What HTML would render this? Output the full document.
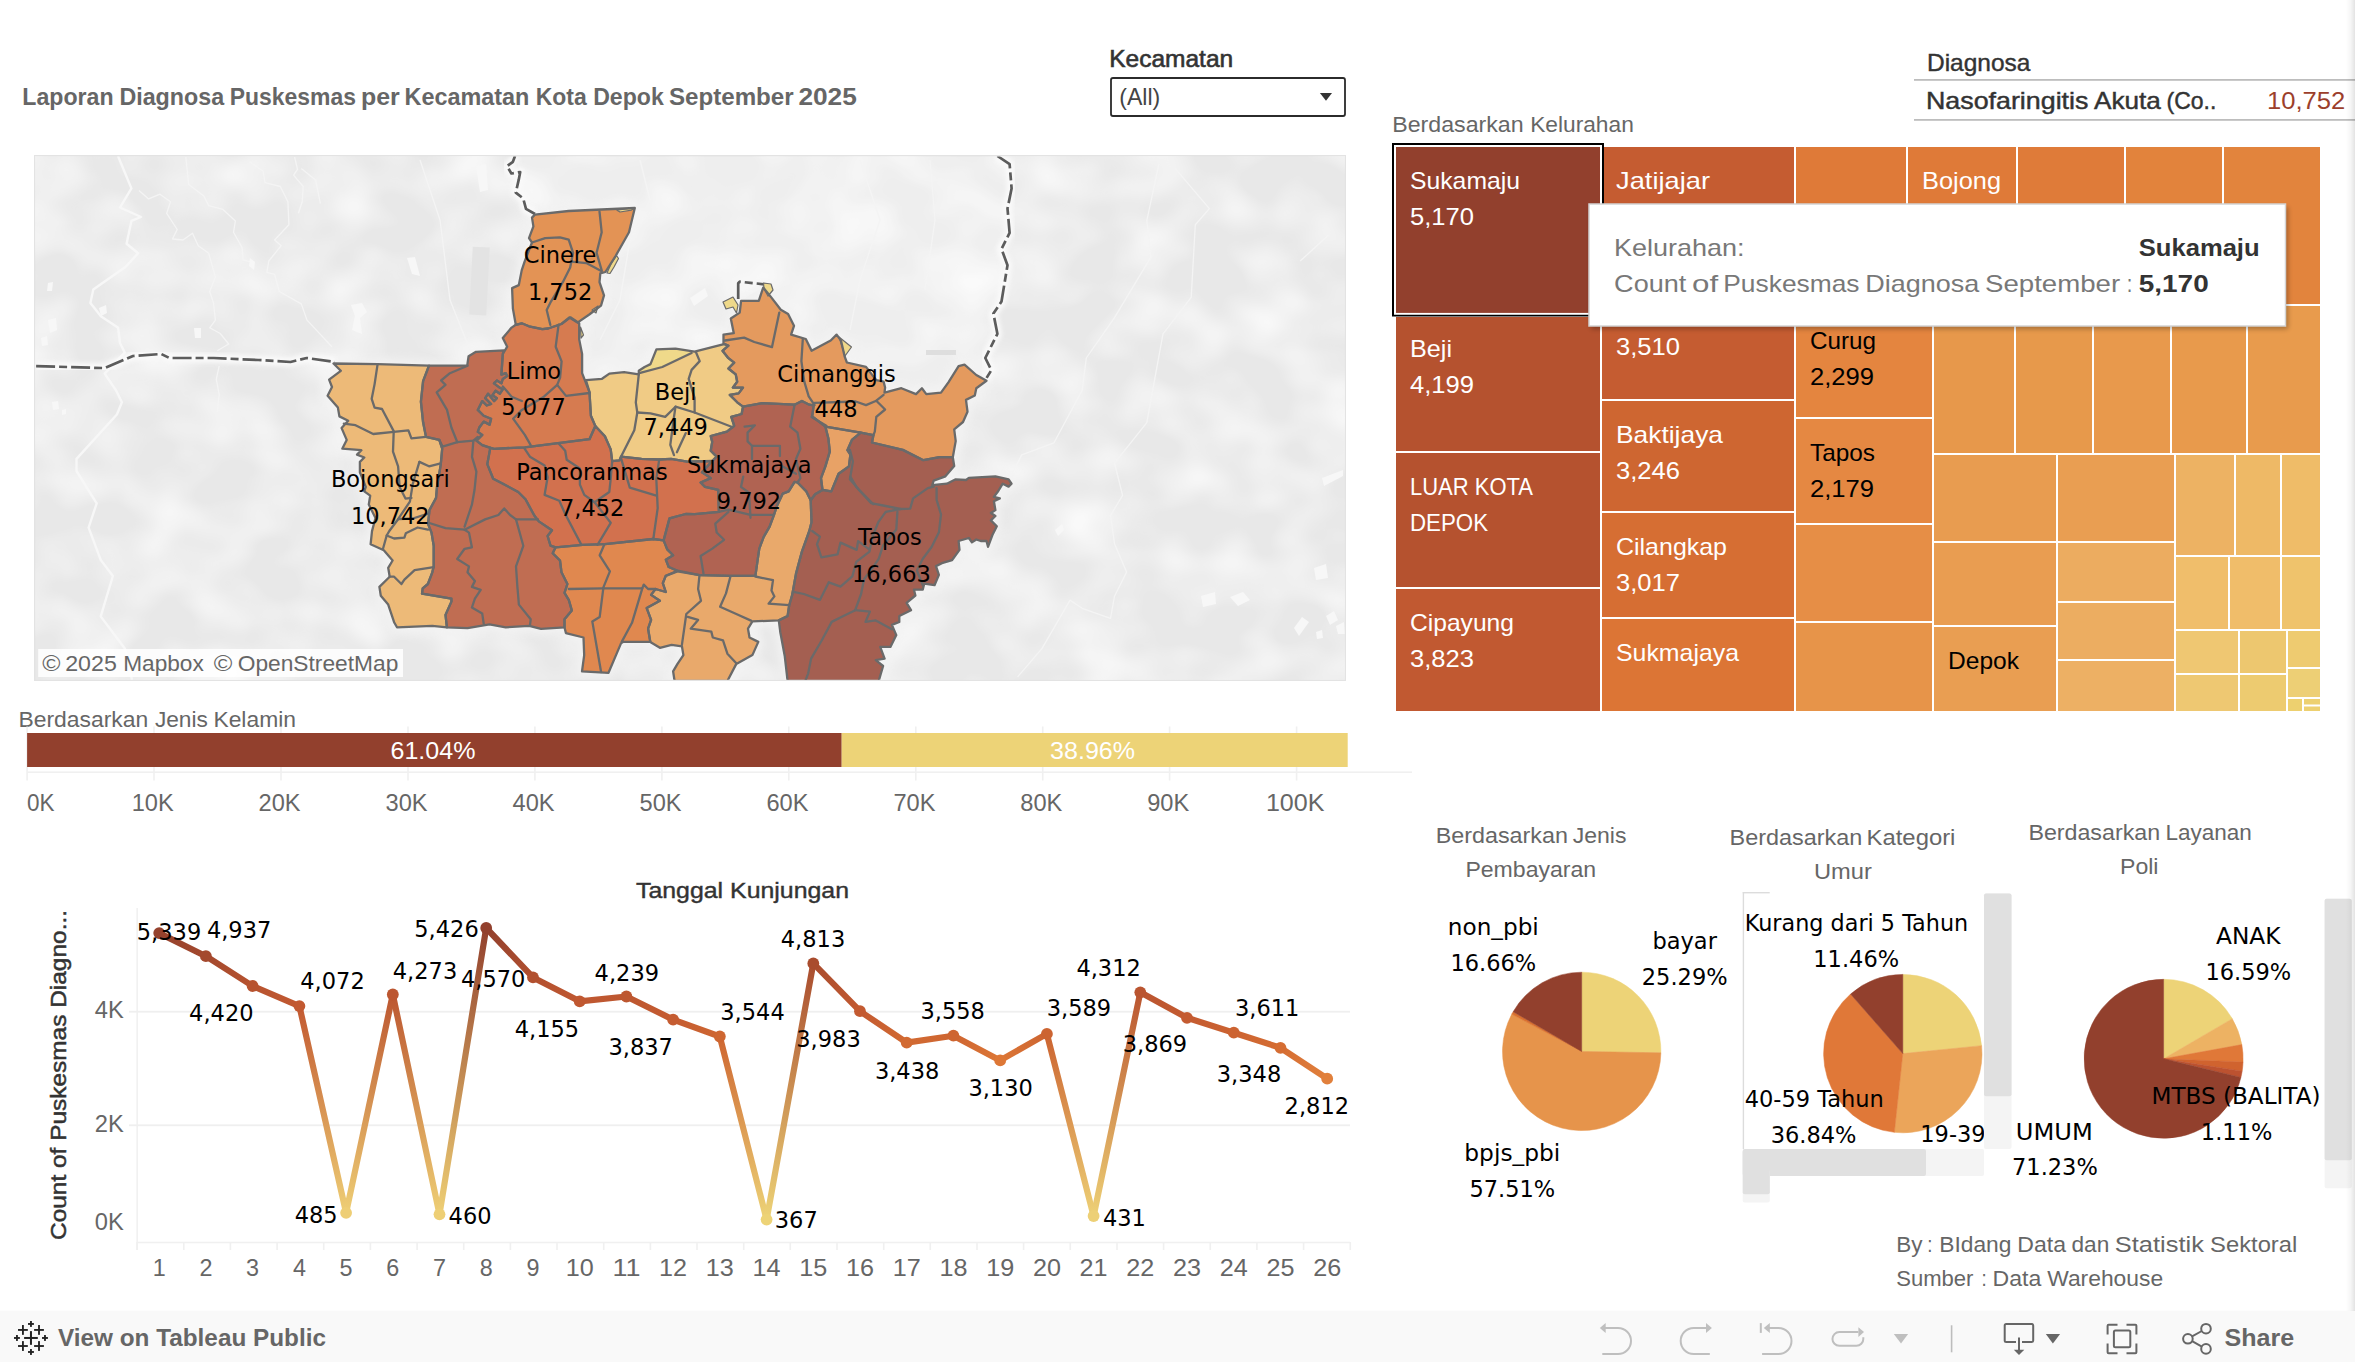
<!DOCTYPE html>
<html lang="id"><head><meta charset="utf-8">
<title>Laporan Diagnosa Puskesmas per Kecamatan Kota Depok September 2025</title>
<style>
html,body{margin:0;padding:0;background:#fff}
body{width:2355px;height:1362px;position:relative;overflow:hidden;font-family:"Liberation Sans", Arial, sans-serif}
svg text{white-space:pre}
</style></head><body>
<svg class="header" width="2355" height="115" viewBox="0 30 2355 115" style="position:absolute;left:0px;top:30px;overflow:hidden">
<text y="104.8" font-family='"Liberation Sans", Arial, sans-serif' font-size="24" fill="#666" font-weight="bold"><tspan x="22.3" textLength="91.3" lengthAdjust="spacingAndGlyphs">Laporan</tspan> <tspan x="119.4" textLength="104.8" lengthAdjust="spacingAndGlyphs">Diagnosa</tspan> <tspan x="229.7" textLength="126.2" lengthAdjust="spacingAndGlyphs">Puskesmas</tspan> <tspan x="361.0" textLength="38.8" lengthAdjust="spacingAndGlyphs">per</tspan> <tspan x="404.5" textLength="124.8" lengthAdjust="spacingAndGlyphs">Kecamatan</tspan> <tspan x="535.7" textLength="51.0" lengthAdjust="spacingAndGlyphs">Kota</tspan> <tspan x="593.2" textLength="70.6" lengthAdjust="spacingAndGlyphs">Depok</tspan> <tspan x="668.9" textLength="124.8" lengthAdjust="spacingAndGlyphs">September</tspan> <tspan x="798.4" textLength="58.4" lengthAdjust="spacingAndGlyphs">2025</tspan></text>
<text x="1109.2" y="66.9" font-family='"Liberation Sans", Arial, sans-serif' font-size="24" fill="#333" text-anchor="start" textLength="124.0" lengthAdjust="spacingAndGlyphs" stroke="#333" stroke-width="0.6">Kecamatan</text>
<rect x="1111" y="78" width="234" height="38" rx="2" fill="#fff" stroke="#2b2b2b" stroke-width="1.8"/>
<text x="1119.3" y="105.2" font-family='"Liberation Sans", Arial, sans-serif' font-size="24" fill="#444" text-anchor="start" textLength="41.0" lengthAdjust="spacingAndGlyphs">(All)</text>
<path d="M1319.9 93 L1332 93 L1326 100.8 Z" fill="#333"/>
<text x="1927.0" y="70.6" font-family='"Liberation Sans", Arial, sans-serif' font-size="24" fill="#333" text-anchor="start" textLength="103.4" lengthAdjust="spacingAndGlyphs" stroke="#333" stroke-width="0.4">Diagnosa</text>
<rect x="1914" y="79" width="441" height="1.8" fill="#bdbdbd"/>
<text y="108.8" font-family='"Liberation Sans", Arial, sans-serif' font-size="24" fill="#333" stroke="#333" stroke-width="0.45"><tspan x="1926.0" textLength="162.4" lengthAdjust="spacingAndGlyphs">Nasofaringitis</tspan> <tspan x="2094.1" textLength="66.8" lengthAdjust="spacingAndGlyphs">Akuta</tspan> <tspan x="2166.6" textLength="49.7" lengthAdjust="spacingAndGlyphs">(Co..</tspan></text>
<text x="2267.0" y="108.8" font-family='"Liberation Sans", Arial, sans-serif' font-size="24" fill="#9c3f2c" text-anchor="start" textLength="78.3" lengthAdjust="spacingAndGlyphs">10,752</text>
<rect x="1914" y="119" width="441" height="1.8" fill="#bdbdbd"/>
<text y="132.0" font-family='"Liberation Sans", Arial, sans-serif' font-size="22" fill="#666"><tspan x="1392.3" textLength="131.3" lengthAdjust="spacingAndGlyphs">Berdasarkan</tspan> <tspan x="1530.2" textLength="103.6" lengthAdjust="spacingAndGlyphs">Kelurahan</tspan></text>
</svg>
<svg class="map" width="1313" height="527" viewBox="34 155 1313 527" style="position:absolute;left:34px;top:155px;overflow:hidden">
<defs><filter id="mb" x="-10%" y="-10%" width="120%" height="120%"><feGaussianBlur stdDeviation="5"/></filter><filter id="mb2" x="-10%" y="-10%" width="120%" height="120%"><feGaussianBlur stdDeviation="2"/></filter><filter id="mottle" x="0" y="0" width="100%" height="100%" color-interpolation-filters="sRGB"><feTurbulence type="fractalNoise" baseFrequency="0.016 0.02" numOctaves="2" seed="7"/><feColorMatrix type="matrix" values="0 0 0 0 1  0 0 0 0 1  0 0 0 0 1  1.5 0 0 0 -0.56"/></filter><clipPath id="mapclip"><rect x="35.4" y="156.4" width="1309.3" height="523.3"/></clipPath></defs>
<rect x="34" y="155" width="1312" height="526" fill="#e3e3e3"/>
<rect x="35.4" y="156.4" width="1309.3" height="523.3" fill="#e8e8e8"/>
<rect x="35.4" y="156.4" width="1309.3" height="523.3" filter="url(#mottle)"/>
<g clip-path="url(#mapclip)">
<polygon points="515,156 997,156 1010,165 1011,188 1008,233 1002,265 1001,301 993,314 997,334 985,358 986,380 960,366 948,382 940,392 885,392 866,367 846,362 836,335 811,350 794,326 763,288 741,300 731,318 723,343 694,351 656,349 650,364 609,373 586,380 582,354 579,323 605,272 635,208 535,214 526,209 516,192 520,172" fill="#ffffff" opacity="0.27"/>
<polyline points="118.0,156.0 131.4,188.4 120.0,207.5 141.0,217.0 131.4,220.9 126.6,243.8 138.1,253.3 125.7,266.7 93.3,289.6 90.4,302.9 100.9,316.3 118.1,327.8 120.0,343.0 124.7,352.6 104.7,373.6 116.2,390.7 121.9,402.2 116.9,414.5 76.5,458.9 76.5,471.0 96.7,503.3 88.6,527.6 100.7,559.9 112.9,576.0 100.7,616.4 125.0,648.7 132.0,680.0" fill="none" stroke="#f7f7f7" stroke-width="2.4" stroke-linejoin="round"/>
<polyline points="139.0,190.4 148.6,198.9 160.0,194.2 170.5,201.8 166.7,213.3 177.2,229.5 172.5,239.0 183.0,240.0 192.5,233.3 198.2,245.7 208.7,253.3 215.4,277.2 209.7,291.5 213.5,302.9 215.4,320.1 209.7,327.8 220.2,333.5 228.7,344.0 217.3,350.7" fill="none" stroke="#f4f4f4" stroke-width="1.3" stroke-linejoin="round"/>
<polyline points="185.8,157.0 188.7,184.6 203.9,196.1 208.7,205.6 223.0,209.4 235.4,220.9 233.5,232.3 242.1,247.6 243.1,260.0 251.6,261.9" fill="none" stroke="#f4f4f4" stroke-width="1.3" stroke-linejoin="round"/>
<polyline points="249.7,161.7 263.1,171.3 265.0,182.7 280.3,186.5 287.9,201.8 288.9,224.7 274.6,240.0 281.2,245.7 268.8,261.0 266.9,272.4 274.6,274.3 279.3,291.5 301.3,303.9 307.0,320.1 320.4,334.4 331.8,346.8" fill="none" stroke="#f4f4f4" stroke-width="1.3" stroke-linejoin="round"/>
<polyline points="294.6,157.0 297.5,169.4 293.6,175.1 303.2,186.5 302.2,201.8 298.4,213.3" fill="none" stroke="#f4f4f4" stroke-width="1.3" stroke-linejoin="round"/>
<polyline points="301.3,168.4 315.6,179.9 320.4,203.7" fill="none" stroke="#f4f4f4" stroke-width="1.3" stroke-linejoin="round"/>
<polyline points="219.2,365.9 216.3,379.3 219.2,394.5 217.3,411.7" fill="none" stroke="#f4f4f4" stroke-width="1.3" stroke-linejoin="round"/>
<polyline points="1158.9,164.2 1146.8,220.7 1150.9,257.1 1114.5,317.6 1086.3,358.0 1082.2,390.3 1054.0,442.8 1021.7,454.9 1009.6,479.1" fill="none" stroke="#f4f4f4" stroke-width="1.3" stroke-linejoin="round"/>
<polyline points="1175.1,168.3 1209.4,208.6 1195.3,224.8 1191.2,297.4 1163.0,333.8 1154.9,378.2 1146.8,422.6 1130.7,442.8 1114.5,463.0 1122.6,495.3 1110.5,515.5 1114.5,543.7 1126.6,572.0 1114.5,596.2 1110.5,618.4 1082.2,608.3 1070.1,600.2 1041.9,648.7 1017.6,676.9" fill="none" stroke="#f4f4f4" stroke-width="1.3" stroke-linejoin="round"/>
<polyline points="1328.5,234.9 1300.2,261.1" fill="none" stroke="#f4f4f4" stroke-width="1.3" stroke-linejoin="round"/>
<polyline points="860.0,160.0 880.0,220.0 860.0,280.0 850.0,330.0" fill="none" stroke="#f4f4f4" stroke-width="1.3" stroke-linejoin="round"/>
<polyline points="930.0,160.0 935.0,220.0 925.0,290.0" fill="none" stroke="#f4f4f4" stroke-width="1.3" stroke-linejoin="round"/>
<polyline points="640.0,160.0 650.0,200.0 630.0,240.0 620.0,300.0 600.0,340.0" fill="none" stroke="#f4f4f4" stroke-width="1.3" stroke-linejoin="round"/>
<polyline points="420.0,160.0 440.0,220.0 450.0,300.0 470.0,350.0" fill="none" stroke="#f4f4f4" stroke-width="1.3" stroke-linejoin="round"/>
<polygon points="351.0,305.0 362.0,303.0 367.0,312.0 360.0,318.0 362.0,334.0 352.0,330.0 355.0,316.0" fill="#f7f7f7"/>
<polygon points="476.0,166.0 486.0,164.0 488.0,190.0 480.0,192.0" fill="#f7f7f7"/>
<polygon points="407.0,258.0 415.0,257.0 420.0,276.0 412.0,274.0" fill="#f7f7f7"/>
<polygon points="1201.0,596.0 1215.0,592.0 1216.0,604.0 1203.0,607.0" fill="#f7f7f7"/>
<polygon points="1230.0,597.0 1243.0,592.0 1250.0,600.0 1238.0,606.0" fill="#f7f7f7"/>
<polygon points="1294.0,628.0 1302.0,617.0 1309.0,622.0 1299.0,636.0" fill="#f7f7f7"/>
<polygon points="1326.0,616.0 1334.0,611.0 1338.0,620.0 1330.0,625.0" fill="#f7f7f7"/>
<polygon points="1336.0,626.0 1344.0,622.0 1345.0,634.0 1338.0,634.0" fill="#f7f7f7"/>
<polygon points="1316.0,632.0 1322.0,630.0 1323.0,638.0 1317.0,639.0" fill="#f7f7f7"/>
<polygon points="1314.0,568.0 1326.0,564.0 1328.0,578.0 1316.0,580.0" fill="#f7f7f7"/>
<polygon points="1322.0,478.0 1343.0,470.0 1343.0,476.0 1324.0,486.0" fill="#f7f7f7"/>
<polygon points="1055.0,530.0 1062.0,524.0 1064.0,530.0 1058.0,536.0" fill="#f7f7f7"/>
<polygon points="48.0,283.0 53.0,282.0 52.0,291.0 47.0,291.0" fill="#f7f7f7"/>
<polygon points="48.0,320.0 56.0,318.0 57.0,330.0 50.0,333.0" fill="#f7f7f7"/>
<polygon points="41.0,338.0 47.0,336.0 48.0,345.0 42.0,346.0" fill="#f7f7f7"/>
<polygon points="99.0,308.0 106.0,305.0 107.0,313.0 101.0,316.0" fill="#f7f7f7"/>
<polygon points="194.0,328.0 201.0,328.0 201.0,338.0 195.0,338.0" fill="#f7f7f7"/>
<polygon points="250.0,258.0 255.0,262.0 254.0,270.0 249.0,266.0" fill="#f7f7f7"/>
<polygon points="52.0,402.0 58.0,401.0 59.0,409.0 53.0,410.0" fill="#f7f7f7"/>
<polygon points="62.0,410.0 66.0,409.0 66.0,414.0 62.0,415.0" fill="#f7f7f7"/>
<polygon points="690.0,298.0 705.0,288.0 708.0,296.0 694.0,306.0" fill="#f7f7f7"/>
<polygon points="660.0,382.0 690.0,348.0 700.0,352.0 670.0,386.0" fill="#f7f7f7"/>
<rect x="471" y="247" width="17" height="68" fill="#e3e3e3" transform="rotate(3 479 281)"/>
<rect x="926" y="350" width="30" height="5" fill="#dedede"/>
<g filter="url(#mb)" stroke="#f3f3f3" stroke-width="10" stroke-linejoin="round">
<polygon points="534.9,214.6 568.7,211.0 634.8,208.0 629.0,232.3 615.7,255.8 605.4,272.0 600.3,273.4 599.5,282.2 604.0,295.4 601.0,305.7 589.3,314.5 577.5,322.6 569.4,317.5 561.4,324.0 548.1,328.5 542.3,329.2 529.0,326.3 521.7,323.3 515.8,324.8 512.9,308.6 512.1,288.1 518.8,285.1 521.7,270.4 524.6,261.6 532.0,242.5 529.0,238.1 533.4,226.4 532.0,217.6" fill="#f3f3f3"/>
<polygon points="511.6,327.6 502.8,337.9 507.2,346.7 502.8,354.0 501.4,374.6 505.8,373.2 507.2,376.1 502.8,379.0 501.4,383.4 496.9,380.5 494.0,383.4 499.9,387.8 502.8,389.3 499.9,393.7 495.5,390.8 492.5,395.2 496.9,398.1 494.0,401.1 488.1,393.7 485.2,398.1 491.1,404.0 486.7,405.5 482.3,401.1 477.8,409.9 483.7,415.8 491.1,418.7 489.6,424.6 483.7,421.6 479.3,427.5 477.8,431.9 482.3,434.9 479.3,437.8 476.4,440.7 482.2,445.1 494.0,448.8 524.8,447.3 560.1,442.9 589.5,439.2 595.3,426.0 590.9,415.7 589.5,392.2 582.1,373.2 582.1,354.0 579.2,339.4 579.2,323.2 570.4,317.3 561.4,324.0 548.1,328.5 542.3,329.2 529.0,326.3 521.7,323.3 515.8,324.8" fill="#f3f3f3"/>
<polygon points="429.0,365.7 467.2,365.7 468.6,356.2 476.0,351.8 503.9,350.3 502.8,354.0 501.4,374.6 505.8,373.2 507.2,376.1 502.8,379.0 501.4,383.4 496.9,380.5 494.0,383.4 499.9,387.8 502.8,389.3 499.9,393.7 495.5,390.8 492.5,395.2 496.9,398.1 494.0,401.1 488.1,393.7 485.2,398.1 491.1,404.0 486.7,405.5 482.3,401.1 477.8,409.9 483.7,415.8 491.1,418.7 489.6,424.6 483.7,421.6 479.3,427.5 477.8,431.9 482.3,434.9 479.3,437.8 476.4,440.7 482.2,445.1 490.3,447.9 487.3,464.1 493.2,478.8 502.0,483.2 518.2,492.0 525.5,499.3 534.3,515.5 538.8,521.4 552.0,530.2 547.6,536.0 550.5,545.6 555.6,547.3 552.7,553.2 560.0,560.5 561.5,572.3 567.4,584.0 564.5,592.8 568.9,600.2 571.8,610.4 564.5,619.3 564.5,627.3 541.0,628.8 529.2,625.9 505.7,627.3 489.5,624.4 467.5,628.1 446.9,627.3 445.5,614.9 451.4,601.6 451.4,598.7 422.0,593.6 422.7,588.4 427.9,584.0 432.3,572.3 433.7,566.4 433.7,545.8 431.5,532.6 428.0,523.8 429.5,510.0 436.0,498.0 437.0,487.0 440.7,464.9 442.2,448.7 439.3,439.9 426.0,436.9 423.1,422.3 420.9,401.7 423.1,381.1 429.0,365.7" fill="#f3f3f3"/>
<polygon points="333.5,363.5 377.6,364.2 429.0,365.7 423.1,381.1 420.9,401.7 423.1,422.3 426.0,436.9 439.3,439.9 442.2,448.7 440.7,464.9 437.0,487.0 436.0,498.0 429.5,510.0 428.0,523.8 431.5,532.6 433.7,545.8 433.7,566.4 432.3,572.3 427.9,584.0 422.7,588.4 422.0,593.6 451.4,598.7 451.4,601.6 445.5,614.9 446.9,627.3 432.3,625.9 397.0,627.3 394.1,622.2 388.2,604.6 380.8,595.8 379.4,586.9 389.7,576.7 388.2,567.8 392.6,560.5 383.8,550.2 370.6,544.3 372.0,531.1 375.5,518.0 368.8,504.5 370.2,495.7 364.3,491.3 365.8,486.9 359.9,472.2 359.9,461.9 364.3,457.5 357.0,454.6 361.4,450.2 342.3,448.7 346.7,439.9 341.6,428.1 348.2,420.8 339.4,416.4 337.9,407.6 327.6,395.8 332.0,387.0 329.1,379.7 340.8,370.8 333.5,363.5" fill="#f3f3f3"/>
<polygon points="490.3,447.9 494.0,448.8 524.8,447.3 560.1,442.9 589.5,439.2 595.3,426.0 604.9,436.2 610.7,449.4 612.2,461.1 619.5,460.4 621.0,456.6 641.6,458.9 659.3,459.5 671.1,458.8 687.2,461.7 712.2,461.0 702.0,472.3 710.8,478.1 700.6,482.5 705.0,486.9 718.2,489.9 718.9,511.9 694.7,514.1 685.6,514.0 669.5,518.4 663.6,540.4 653.3,539.0 604.9,544.1 582.8,544.9 555.6,547.3 550.5,545.6 547.6,536.0 552.0,530.2 538.8,521.4 534.3,515.5 525.5,499.3 518.2,492.0 502.0,483.2 493.2,478.8 487.3,464.1" fill="#f3f3f3"/>
<polygon points="585.9,380.2 602.0,378.8 609.4,373.6 624.1,372.1 638.8,374.3 638.8,370.7 644.6,367.0 650.5,364.1 656.4,349.4 675.5,348.6 694.6,351.6 724.0,344.2 728.4,345.7 722.5,350.8 728.4,358.2 734.2,362.6 728.4,368.5 735.7,374.3 737.2,381.7 732.8,387.6 743.0,387.6 738.6,393.4 729.8,394.9 737.2,402.3 743.0,406.7 741.6,414.0 731.3,416.9 734.2,425.8 726.9,431.6 710.7,436.0 712.2,441.9 710.7,450.7 716.6,456.6 712.2,461.0 687.2,461.7 671.1,458.8 659.3,459.5 641.6,458.9 621.0,456.6 619.5,460.4 612.2,461.1 610.7,449.4 604.9,436.2 595.3,426.0 590.9,415.7 589.5,392.2" fill="#f3f3f3"/>
<polygon points="656.4,349.4 675.5,348.6 691.6,353.0 662.3,367.0 640.2,372.9 644.6,367.0 650.5,364.1" fill="#f3f3f3"/>
<polygon points="743.0,406.7 762.3,403.2 794.6,404.7 801.9,401.0 809.3,404.7 813.7,405.4 812.2,416.4 825.4,426.7 828.4,438.5 829.8,451.7 825.4,466.4 821.0,478.1 822.5,489.9 815.1,494.3 810.7,500.2 806.3,491.4 797.5,482.5 794.6,481.8 788.7,491.4 782.8,493.6 776.9,506.0 774.0,514.9 769.6,526.6 763.7,536.9 759.3,548.6 757.8,558.9 755.4,575.8 730.4,575.8 699.5,575.1 677.5,570.7 668.7,567.0 665.8,559.7 673.1,555.3 667.2,549.4 663.6,540.4 669.5,518.4 685.6,514.0 694.7,514.1 718.9,511.9 718.2,489.9 705.0,486.9 700.6,482.5 710.8,478.1 702.0,472.3 712.2,461.0 716.6,456.6 710.7,450.7 712.2,441.9 710.7,436.0 726.9,431.6 734.2,425.8 731.3,416.9 741.6,414.0" fill="#f3f3f3"/>
<polygon points="555.6,547.3 582.8,544.9 604.9,544.1 653.3,539.0 663.6,540.4 667.2,549.4 673.1,555.3 665.8,559.7 668.7,567.0 677.5,570.7 665.8,575.8 662.8,583.2 665.8,592.0 655.5,589.0 651.1,594.9 659.9,600.8 646.7,608.1 651.1,619.9 648.1,628.7 650.3,641.9 623.2,641.9 621.0,643.4 608.5,672.8 582.0,671.3 584.2,655.1 583.5,637.5 565.9,633.1 564.5,627.3 564.5,619.3 571.8,610.4 568.9,600.2 564.5,592.8 567.4,584.0 561.5,572.3 560.0,560.5 552.7,553.2" fill="#f3f3f3"/>
<polygon points="665.8,575.8 677.5,571.4 699.5,575.1 730.4,575.8 755.4,575.8 757.8,558.9 759.3,548.6 763.7,536.9 769.6,526.6 774.0,514.9 776.9,506.0 782.8,493.6 788.7,491.4 794.6,481.8 797.5,482.5 806.3,491.4 810.7,500.2 811.5,522.2 809.3,531.0 801.9,551.6 796.0,573.6 793.1,590.0 792.0,595.5 789.1,605.8 787.6,616.0 778.8,620.4 752.4,621.4 748.0,628.7 749.5,637.5 758.3,641.9 752.4,655.1 736.3,663.9 727.4,681.0 674.6,681.0 673.1,671.3 677.5,663.9 683.4,655.1 681.9,646.3 671.6,644.9 659.9,647.8 650.3,641.9 648.1,628.7 651.1,619.9 646.7,608.1 659.9,600.8 651.1,594.9 655.5,589.0 665.8,592.0 662.8,583.2" fill="#f3f3f3"/>
<polygon points="825.4,426.7 860.7,432.6 851.9,439.9 847.4,450.2 850.4,454.6 848.9,466.4 838.6,473.7 831.3,491.4 822.5,489.9 821.0,478.1 825.4,466.4 829.8,451.7 828.4,438.5" fill="#f3f3f3"/>
<polygon points="728.4,345.7 723.5,343.4 723.5,334.6 733.8,333.2 730.8,318.5 739.7,312.6 741.1,300.8 758.8,300.8 763.2,287.6 770.5,296.4 780.8,309.7 788.1,314.1 794.0,325.8 791.1,334.6 805.8,339.0 811.6,350.8 830.7,340.5 836.6,334.6 841.0,340.5 844.7,356.7 846.9,362.5 866.0,366.9 876.3,380.2 883.6,381.6 885.1,387.5 884.5,392.6 901.4,388.2 916.0,394.1 921.9,388.2 926.3,394.1 941.0,392.6 948.4,382.3 958.6,366.2 964.5,364.7 976.3,375.0 986.5,380.8 976.3,388.2 974.8,395.5 966.0,399.9 967.5,411.7 963.0,422.0 954.2,429.3 955.7,441.1 952.8,457.2 939.5,457.2 923.4,460.2 902.8,449.9 872.0,442.5 873.4,435.2 860.7,432.6 825.4,426.7 812.2,416.4 813.7,405.4 809.3,404.7 801.9,401.0 794.6,404.7 762.3,403.2 743.0,406.7 737.2,402.3 729.8,394.9 738.6,393.4 743.0,387.6 732.8,387.6 737.2,381.7 735.7,374.3 728.4,368.5 734.2,362.6 728.4,358.2 722.5,350.8" fill="#f3f3f3"/>
<polygon points="810.7,500.2 815.1,494.3 822.5,489.9 831.3,491.4 838.6,473.7 848.9,466.4 850.4,454.6 847.4,450.2 851.9,439.9 860.7,432.6 873.4,435.2 872.0,442.5 902.8,449.9 923.4,460.2 939.5,457.2 952.8,457.2 954.2,466.0 945.4,476.3 933.7,480.7 932.2,485.1 946.9,483.7 955.7,479.3 966.0,480.0 968.9,477.8 995.4,476.3 1008.6,479.3 1011.5,483.7 1008.6,486.6 1002.7,483.7 998.3,491.0 993.9,496.9 999.8,498.4 993.9,501.3 995.4,510.1 990.9,513.0 995.4,516.0 990.9,520.4 996.8,526.3 992.4,535.1 988.0,546.8 986.5,541.0 980.7,541.0 976.3,539.5 971.9,542.4 968.9,538.0 958.6,541.0 959.5,549.9 952.1,560.2 941.9,563.2 936.0,566.1 938.9,574.9 934.5,585.2 924.2,583.7 922.8,589.6 913.9,589.6 915.4,595.5 906.6,602.8 911.0,610.2 899.3,616.0 899.3,621.9 891.9,624.9 896.3,635.1 890.4,646.9 880.2,646.9 884.6,658.6 875.8,660.1 883.1,666.0 878.7,681.0 787.6,681.0 784.7,655.7 780.3,632.2 778.8,620.4 787.6,616.0 789.1,605.8 792.0,595.5 793.1,590.0 796.0,573.6 801.9,551.6 809.3,531.0 811.5,522.2" fill="#f3f3f3"/>
</g>
<polyline points="36.1,366.1 104.8,368.1 133.0,356.0 161.3,354.0 169.4,358.0 213.8,358.0 258.2,360.0 290.5,362.0 306.6,358.0 334.9,362.0" fill="none" stroke="#fafafa" stroke-width="9" stroke-linejoin="round" filter="url(#mb2)"/>
<polyline points="535.0,214.0 526.0,208.8 523.2,198.5 515.8,192.6 518.8,179.4 520.2,172.0 511.4,173.5 507.0,166.2 512.9,161.8 515.0,156.0" fill="none" stroke="#fafafa" stroke-width="9" stroke-linejoin="round" filter="url(#mb2)"/>
<polyline points="997.4,156.0 1009.6,164.2 1011.6,188.4 1007.5,208.6 1009.6,232.9 1001.5,249.0 1007.5,265.2 1001.5,301.5 993.4,313.6 997.4,333.8 985.3,358.0 991.4,370.1 985.3,380.0" fill="none" stroke="#fafafa" stroke-width="9" stroke-linejoin="round" filter="url(#mb2)"/>
<polyline points="36.1,366.1 104.8,368.1 133.0,356.0 161.3,354.0 169.4,358.0 213.8,358.0 258.2,360.0 290.5,362.0 306.6,358.0 334.9,362.0" fill="none" stroke="#5c5c5c" stroke-width="2.7" stroke-dasharray="19 4 8 4" stroke-linejoin="round"/>
<polyline points="535.0,214.0 526.0,208.8 523.2,198.5 515.8,192.6 518.8,179.4 520.2,172.0 511.4,173.5 507.0,166.2 512.9,161.8 515.0,156.0" fill="none" stroke="#5c5c5c" stroke-width="2.7" stroke-dasharray="19 4 8 4" stroke-linejoin="round"/>
<polyline points="997.4,156.0 1009.6,164.2 1011.6,188.4 1007.5,208.6 1009.6,232.9 1001.5,249.0 1007.5,265.2 1001.5,301.5 993.4,313.6 997.4,333.8 985.3,358.0 991.4,370.1 985.3,380.0" fill="none" stroke="#5c5c5c" stroke-width="2.7" stroke-dasharray="19 4 8 4" stroke-linejoin="round"/>
<polyline points="738.2,299.0 738.2,283.2 739.7,281.7 767.6,284.7" fill="none" stroke="#5c5c5c" stroke-width="2.7" stroke-dasharray="19 4 8 4" stroke-linejoin="round"/>
<polygon points="534.9,214.6 568.7,211.0 634.8,208.0 629.0,232.3 615.7,255.8 605.4,272.0 600.3,273.4 599.5,282.2 604.0,295.4 601.0,305.7 589.3,314.5 577.5,322.6 569.4,317.5 561.4,324.0 548.1,328.5 542.3,329.2 529.0,326.3 521.7,323.3 515.8,324.8 512.9,308.6 512.1,288.1 518.8,285.1 521.7,270.4 524.6,261.6 532.0,242.5 529.0,238.1 533.4,226.4 532.0,217.6" fill="#E39355"/>
<polygon points="511.6,327.6 502.8,337.9 507.2,346.7 502.8,354.0 501.4,374.6 505.8,373.2 507.2,376.1 502.8,379.0 501.4,383.4 496.9,380.5 494.0,383.4 499.9,387.8 502.8,389.3 499.9,393.7 495.5,390.8 492.5,395.2 496.9,398.1 494.0,401.1 488.1,393.7 485.2,398.1 491.1,404.0 486.7,405.5 482.3,401.1 477.8,409.9 483.7,415.8 491.1,418.7 489.6,424.6 483.7,421.6 479.3,427.5 477.8,431.9 482.3,434.9 479.3,437.8 476.4,440.7 482.2,445.1 494.0,448.8 524.8,447.3 560.1,442.9 589.5,439.2 595.3,426.0 590.9,415.7 589.5,392.2 582.1,373.2 582.1,354.0 579.2,339.4 579.2,323.2 570.4,317.3 561.4,324.0 548.1,328.5 542.3,329.2 529.0,326.3 521.7,323.3 515.8,324.8" fill="#D67B50"/>
<polygon points="429.0,365.7 467.2,365.7 468.6,356.2 476.0,351.8 503.9,350.3 502.8,354.0 501.4,374.6 505.8,373.2 507.2,376.1 502.8,379.0 501.4,383.4 496.9,380.5 494.0,383.4 499.9,387.8 502.8,389.3 499.9,393.7 495.5,390.8 492.5,395.2 496.9,398.1 494.0,401.1 488.1,393.7 485.2,398.1 491.1,404.0 486.7,405.5 482.3,401.1 477.8,409.9 483.7,415.8 491.1,418.7 489.6,424.6 483.7,421.6 479.3,427.5 477.8,431.9 482.3,434.9 479.3,437.8 476.4,440.7 482.2,445.1 490.3,447.9 487.3,464.1 493.2,478.8 502.0,483.2 518.2,492.0 525.5,499.3 534.3,515.5 538.8,521.4 552.0,530.2 547.6,536.0 550.5,545.6 555.6,547.3 552.7,553.2 560.0,560.5 561.5,572.3 567.4,584.0 564.5,592.8 568.9,600.2 571.8,610.4 564.5,619.3 564.5,627.3 541.0,628.8 529.2,625.9 505.7,627.3 489.5,624.4 467.5,628.1 446.9,627.3 445.5,614.9 451.4,601.6 451.4,598.7 422.0,593.6 422.7,588.4 427.9,584.0 432.3,572.3 433.7,566.4 433.7,545.8 431.5,532.6 428.0,523.8 429.5,510.0 436.0,498.0 437.0,487.0 440.7,464.9 442.2,448.7 439.3,439.9 426.0,436.9 423.1,422.3 420.9,401.7 423.1,381.1 429.0,365.7" fill="#C06D52"/>
<polygon points="333.5,363.5 377.6,364.2 429.0,365.7 423.1,381.1 420.9,401.7 423.1,422.3 426.0,436.9 439.3,439.9 442.2,448.7 440.7,464.9 437.0,487.0 436.0,498.0 429.5,510.0 428.0,523.8 431.5,532.6 433.7,545.8 433.7,566.4 432.3,572.3 427.9,584.0 422.7,588.4 422.0,593.6 451.4,598.7 451.4,601.6 445.5,614.9 446.9,627.3 432.3,625.9 397.0,627.3 394.1,622.2 388.2,604.6 380.8,595.8 379.4,586.9 389.7,576.7 388.2,567.8 392.6,560.5 383.8,550.2 370.6,544.3 372.0,531.1 375.5,518.0 368.8,504.5 370.2,495.7 364.3,491.3 365.8,486.9 359.9,472.2 359.9,461.9 364.3,457.5 357.0,454.6 361.4,450.2 342.3,448.7 346.7,439.9 341.6,428.1 348.2,420.8 339.4,416.4 337.9,407.6 327.6,395.8 332.0,387.0 329.1,379.7 340.8,370.8 333.5,363.5" fill="#EDBA78"/>
<polygon points="490.3,447.9 494.0,448.8 524.8,447.3 560.1,442.9 589.5,439.2 595.3,426.0 604.9,436.2 610.7,449.4 612.2,461.1 619.5,460.4 621.0,456.6 641.6,458.9 659.3,459.5 671.1,458.8 687.2,461.7 712.2,461.0 702.0,472.3 710.8,478.1 700.6,482.5 705.0,486.9 718.2,489.9 718.9,511.9 694.7,514.1 685.6,514.0 669.5,518.4 663.6,540.4 653.3,539.0 604.9,544.1 582.8,544.9 555.6,547.3 550.5,545.6 547.6,536.0 552.0,530.2 538.8,521.4 534.3,515.5 525.5,499.3 518.2,492.0 502.0,483.2 493.2,478.8 487.3,464.1" fill="#D2714E"/>
<polygon points="585.9,380.2 602.0,378.8 609.4,373.6 624.1,372.1 638.8,374.3 638.8,370.7 644.6,367.0 650.5,364.1 656.4,349.4 675.5,348.6 694.6,351.6 724.0,344.2 728.4,345.7 722.5,350.8 728.4,358.2 734.2,362.6 728.4,368.5 735.7,374.3 737.2,381.7 732.8,387.6 743.0,387.6 738.6,393.4 729.8,394.9 737.2,402.3 743.0,406.7 741.6,414.0 731.3,416.9 734.2,425.8 726.9,431.6 710.7,436.0 712.2,441.9 710.7,450.7 716.6,456.6 712.2,461.0 687.2,461.7 671.1,458.8 659.3,459.5 641.6,458.9 621.0,456.6 619.5,460.4 612.2,461.1 610.7,449.4 604.9,436.2 595.3,426.0 590.9,415.7 589.5,392.2" fill="#F0CB85"/>
<polygon points="656.4,349.4 675.5,348.6 691.6,353.0 662.3,367.0 640.2,372.9 644.6,367.0 650.5,364.1" fill="#EFD98A"/>
<polygon points="743.0,406.7 762.3,403.2 794.6,404.7 801.9,401.0 809.3,404.7 813.7,405.4 812.2,416.4 825.4,426.7 828.4,438.5 829.8,451.7 825.4,466.4 821.0,478.1 822.5,489.9 815.1,494.3 810.7,500.2 806.3,491.4 797.5,482.5 794.6,481.8 788.7,491.4 782.8,493.6 776.9,506.0 774.0,514.9 769.6,526.6 763.7,536.9 759.3,548.6 757.8,558.9 755.4,575.8 730.4,575.8 699.5,575.1 677.5,570.7 668.7,567.0 665.8,559.7 673.1,555.3 667.2,549.4 663.6,540.4 669.5,518.4 685.6,514.0 694.7,514.1 718.9,511.9 718.2,489.9 705.0,486.9 700.6,482.5 710.8,478.1 702.0,472.3 712.2,461.0 716.6,456.6 710.7,450.7 712.2,441.9 710.7,436.0 726.9,431.6 734.2,425.8 731.3,416.9 741.6,414.0" fill="#B06352"/>
<polygon points="555.6,547.3 582.8,544.9 604.9,544.1 653.3,539.0 663.6,540.4 667.2,549.4 673.1,555.3 665.8,559.7 668.7,567.0 677.5,570.7 665.8,575.8 662.8,583.2 665.8,592.0 655.5,589.0 651.1,594.9 659.9,600.8 646.7,608.1 651.1,619.9 648.1,628.7 650.3,641.9 623.2,641.9 621.0,643.4 608.5,672.8 582.0,671.3 584.2,655.1 583.5,637.5 565.9,633.1 564.5,627.3 564.5,619.3 571.8,610.4 568.9,600.2 564.5,592.8 567.4,584.0 561.5,572.3 560.0,560.5 552.7,553.2" fill="#E0884F"/>
<polygon points="665.8,575.8 677.5,571.4 699.5,575.1 730.4,575.8 755.4,575.8 757.8,558.9 759.3,548.6 763.7,536.9 769.6,526.6 774.0,514.9 776.9,506.0 782.8,493.6 788.7,491.4 794.6,481.8 797.5,482.5 806.3,491.4 810.7,500.2 811.5,522.2 809.3,531.0 801.9,551.6 796.0,573.6 793.1,590.0 792.0,595.5 789.1,605.8 787.6,616.0 778.8,620.4 752.4,621.4 748.0,628.7 749.5,637.5 758.3,641.9 752.4,655.1 736.3,663.9 727.4,681.0 674.6,681.0 673.1,671.3 677.5,663.9 683.4,655.1 681.9,646.3 671.6,644.9 659.9,647.8 650.3,641.9 648.1,628.7 651.1,619.9 646.7,608.1 659.9,600.8 651.1,594.9 655.5,589.0 665.8,592.0 662.8,583.2" fill="#E9A96B"/>
<polygon points="825.4,426.7 860.7,432.6 851.9,439.9 847.4,450.2 850.4,454.6 848.9,466.4 838.6,473.7 831.3,491.4 822.5,489.9 821.0,478.1 825.4,466.4 829.8,451.7 828.4,438.5" fill="#E8A266"/>
<polygon points="728.4,345.7 723.5,343.4 723.5,334.6 733.8,333.2 730.8,318.5 739.7,312.6 741.1,300.8 758.8,300.8 763.2,287.6 770.5,296.4 780.8,309.7 788.1,314.1 794.0,325.8 791.1,334.6 805.8,339.0 811.6,350.8 830.7,340.5 836.6,334.6 841.0,340.5 844.7,356.7 846.9,362.5 866.0,366.9 876.3,380.2 883.6,381.6 885.1,387.5 884.5,392.6 901.4,388.2 916.0,394.1 921.9,388.2 926.3,394.1 941.0,392.6 948.4,382.3 958.6,366.2 964.5,364.7 976.3,375.0 986.5,380.8 976.3,388.2 974.8,395.5 966.0,399.9 967.5,411.7 963.0,422.0 954.2,429.3 955.7,441.1 952.8,457.2 939.5,457.2 923.4,460.2 902.8,449.9 872.0,442.5 873.4,435.2 860.7,432.6 825.4,426.7 812.2,416.4 813.7,405.4 809.3,404.7 801.9,401.0 794.6,404.7 762.3,403.2 743.0,406.7 737.2,402.3 729.8,394.9 738.6,393.4 743.0,387.6 732.8,387.6 737.2,381.7 735.7,374.3 728.4,368.5 734.2,362.6 728.4,358.2 722.5,350.8" fill="#E49A5E"/>
<polygon points="810.7,500.2 815.1,494.3 822.5,489.9 831.3,491.4 838.6,473.7 848.9,466.4 850.4,454.6 847.4,450.2 851.9,439.9 860.7,432.6 873.4,435.2 872.0,442.5 902.8,449.9 923.4,460.2 939.5,457.2 952.8,457.2 954.2,466.0 945.4,476.3 933.7,480.7 932.2,485.1 946.9,483.7 955.7,479.3 966.0,480.0 968.9,477.8 995.4,476.3 1008.6,479.3 1011.5,483.7 1008.6,486.6 1002.7,483.7 998.3,491.0 993.9,496.9 999.8,498.4 993.9,501.3 995.4,510.1 990.9,513.0 995.4,516.0 990.9,520.4 996.8,526.3 992.4,535.1 988.0,546.8 986.5,541.0 980.7,541.0 976.3,539.5 971.9,542.4 968.9,538.0 958.6,541.0 959.5,549.9 952.1,560.2 941.9,563.2 936.0,566.1 938.9,574.9 934.5,585.2 924.2,583.7 922.8,589.6 913.9,589.6 915.4,595.5 906.6,602.8 911.0,610.2 899.3,616.0 899.3,621.9 891.9,624.9 896.3,635.1 890.4,646.9 880.2,646.9 884.6,658.6 875.8,660.1 883.1,666.0 878.7,681.0 787.6,681.0 784.7,655.7 780.3,632.2 778.8,620.4 787.6,616.0 789.1,605.8 792.0,595.5 793.1,590.0 796.0,573.6 801.9,551.6 809.3,531.0 811.5,522.2" fill="#A45F51"/>
<polygon points="617.0,210.2 634.0,207.6 631.5,210.2 620.0,212.0" fill="#EFD98A" stroke="#6b6b6b" stroke-width="1.2" stroke-linejoin="round"/>
<polygon points="607.0,273.0 611.0,264.0 616.5,255.5 618.5,258.5 614.0,267.0 610.0,273.5" fill="#EFD98A" stroke="#6b6b6b" stroke-width="1.2" stroke-linejoin="round"/>
<polygon points="580.5,327.0 583.5,335.0 581.0,338.0" fill="#EFD98A" stroke="#6b6b6b" stroke-width="1.2" stroke-linejoin="round"/>
<polygon points="592.0,310.0 598.0,306.0 596.0,313.0" fill="#EFD98A" stroke="#6b6b6b" stroke-width="1.2" stroke-linejoin="round"/>
<polygon points="763.5,283.0 771.0,284.0 773.0,290.0 768.0,296.0 764.0,289.0" fill="#EFD98A" stroke="#6b6b6b" stroke-width="1.2" stroke-linejoin="round"/>
<polygon points="723.0,302.0 733.0,297.0 738.0,305.0 736.5,313.0 733.0,307.0 726.0,309.0" fill="#EFD98A" stroke="#6b6b6b" stroke-width="1.2" stroke-linejoin="round"/>
<polygon points="839.0,337.0 851.5,347.0 845.0,356.0" fill="#EFD98A" stroke="#6b6b6b" stroke-width="1.2" stroke-linejoin="round"/>
<g fill="none" stroke="#6a6a6a" stroke-width="2.3" stroke-linejoin="round" stroke-linecap="round">
<polyline points="599.5,211.7 601.7,232.3 596.6,252.8 601.7,270.4"/>
<polyline points="532.0,242.5 545.2,238.1 559.9,237.4 568.7,239.6 573.1,252.8 570.2,267.5 562.8,282.2 551.1,301.3 546.7,310.1 550.3,324.8"/>
<polyline points="571.6,261.6 586.3,263.1 601.7,271.2"/>
<polyline points="558.6,324.7 555.7,346.7 561.6,361.4 560.1,377.6 557.2,384.9 566.0,395.9 589.5,393.0"/>
<polyline points="557.2,384.9 543.9,396.7 521.9,409.9 513.1,418.7 524.8,434.9 530.7,445.1"/>
<polyline points="502.8,386.4 511.6,396.7 521.9,401.0"/>
<polyline points="467.6,365.8 449.9,373.2 441.1,380.5 445.5,384.9 436.7,392.3 447.0,409.9 451.4,427.5 457.3,442.2"/>
<polyline points="439.3,439.9 442.6,446.6 457.3,442.2 473.4,440.7 477.8,437.0"/>
<polyline points="473.4,440.7 472.0,456.9 476.4,471.6 474.5,490.0 471.9,504.7 464.6,526.7"/>
<polyline points="429.3,523.0 445.5,528.2 464.6,529.7 485.1,519.4 498.4,515.0 504.2,508.4 510.1,515.0 516.0,519.4 538.0,519.4"/>
<polyline points="464.6,529.7 469.0,532.6 471.9,547.3 464.6,548.8 457.2,559.0 469.0,566.4 467.5,572.3 474.9,581.1 471.9,586.9 480.7,589.9 474.9,598.7 471.9,607.5 482.2,613.4 483.7,623.7"/>
<polyline points="516.0,519.4 523.3,545.8 516.0,566.4 517.4,586.9 518.9,604.6 530.7,619.3 529.9,625.9"/>
<polyline points="377.6,364.2 374.6,384.1 371.7,398.8 374.6,407.6 382.0,409.0 393.7,431.1"/>
<polyline points="343.8,423.7 355.5,425.2 373.2,434.0 393.7,431.8 408.4,430.3 411.4,438.4 426.0,436.9"/>
<polyline points="393.7,431.8 393.0,451.6 398.1,466.3 399.6,486.9 405.5,498.6 411.4,497.9"/>
<polyline points="419.4,461.9 429.0,466.3 440.7,463.4"/>
<polyline points="419.4,461.9 412.8,483.9 409.9,501.6 398.1,519.2 389.3,531.0 386.7,535.5 383.0,548.8"/>
<polyline points="398.1,519.2 412.8,518.5 429.0,513.3"/>
<polyline points="427.9,529.7 417.6,527.5 405.8,533.3 404.4,537.7 394.1,538.5 386.7,535.5"/>
<polyline points="433.7,567.1 414.6,570.1 404.4,579.6 401.4,584.0 394.1,576.7 389.7,576.7"/>
<polyline points="524.1,447.9 529.9,456.7 544.6,465.5 547.6,477.3 544.6,494.9 559.3,500.8 565.2,514.0 581.4,544.9"/>
<polyline points="559.3,444.2 565.2,450.8 566.7,459.7 579.9,468.5 579.9,484.6 584.3,494.9 594.6,502.3 610.7,522.8 597.5,544.9"/>
<polyline points="612.2,461.1 610.7,478.8 609.3,492.0 594.6,502.3"/>
<polyline points="621.0,458.2 629.8,487.6 656.3,495.6"/>
<polyline points="659.2,459.7 656.3,478.8 657.7,508.1 653.3,539.0"/>
<polyline points="604.1,545.0 599.7,555.3 609.9,571.4 603.3,587.6"/>
<polyline points="568.8,589.0 603.3,588.3 642.3,588.3 643.7,584.6 648.1,589.0 655.5,589.0"/>
<polyline points="603.3,588.3 599.7,616.9 592.3,621.4 601.1,672.0"/>
<polyline points="642.3,588.3 632.0,622.8 621.7,641.9"/>
<polyline points="699.5,575.1 698.1,589.0 701.0,600.8 686.3,614.0 681.9,644.9"/>
<polyline points="730.4,576.6 726.0,593.4 720.1,606.7 736.3,614.0 751.0,620.6"/>
<polyline points="687.8,616.9 698.1,619.9 690.7,628.7 711.3,631.6 712.8,637.5 723.0,640.4 727.4,653.7 736.3,663.2"/>
<polyline points="755.4,576.5 773.0,580.2 771.5,590.5 774.4,596.4 768.6,603.7 789.1,605.2"/>
<polyline points="638.8,374.3 635.8,402.3 637.3,412.5 634.3,430.2 621.1,456.6"/>
<polyline points="637.3,412.5 650.5,413.3 665.2,416.9 675.5,406.7 694.6,412.5 732.8,427.2"/>
<polyline points="696.0,352.3 699.7,361.1 691.6,369.9 688.7,378.8 694.6,397.8 694.6,412.5"/>
<polyline points="675.5,406.7 674.0,416.9 670.3,444.9 674.0,455.1"/>
<polyline points="685.8,433.1 676.9,452.2"/>
<polyline points="794.6,404.7 790.2,426.7 797.5,432.6 800.4,448.8 796.0,459.0 800.4,478.1 797.5,482.5"/>
<polyline points="744.6,426.7 754.9,425.3 747.6,432.6 747.6,441.4 752.0,445.8 779.9,445.8 779.9,456.1"/>
<polyline points="752.0,445.8 752.0,459.0"/>
<polyline points="743.2,476.7 741.0,486.9 749.0,492.8 750.5,517.8"/>
<polyline points="782.8,466.4 796.0,473.7"/>
<polyline points="718.9,511.9 728.5,509.7 750.5,514.9 774.0,514.9"/>
<polyline points="728.5,511.9 715.3,523.7 716.7,532.5 724.1,539.8 712.3,548.6 700.6,556.0 703.5,573.6"/>
<polyline points="725.0,340.5 744.1,337.6 754.3,342.0 772.0,347.1 779.3,312.6"/>
<polyline points="802.8,339.0 801.4,361.1 804.3,381.6 808.7,396.3 814.6,405.1"/>
<polyline points="814.6,402.9 855.7,401.5 866.0,405.1 876.3,400.7 883.6,394.9"/>
<polyline points="876.3,400.7 885.1,409.5 876.3,416.9 874.8,431.6 873.4,435.2"/>
<polyline points="811.6,416.9 826.3,425.7"/>
<polyline points="850.4,476.7 856.3,486.9 871.0,503.1 885.7,506.0 900.3,509.0 910.2,508.6 913.1,498.4 927.8,488.1 933.7,486.6"/>
<polyline points="849.9,449.9 852.9,461.6 849.9,479.3 858.8,489.5 873.4,504.2"/>
<polyline points="900.3,509.0 885.7,511.9 878.3,522.2 872.4,536.9 869.5,551.6 856.3,561.9 852.3,576.4 840.5,586.7 828.8,582.3 819.9,599.9 803.8,594.0 793.5,591.8"/>
<polyline points="812.2,531.0 819.9,536.7 817.0,544.1 821.4,557.3 837.6,554.3 840.5,542.6 856.7,549.9 858.1,541.1 869.9,549.9"/>
<polyline points="897.4,511.9 896.3,529.4 883.1,545.5 878.7,558.8 872.8,567.6 864.0,579.3 861.1,594.0 855.2,610.2 843.4,616.0 831.7,621.9 821.4,641.0 811.1,658.6 808.2,673.3 805.3,681.0"/>
<polyline points="855.2,610.2 869.9,611.6 865.5,621.9 875.8,620.4 891.9,629.3"/>
<polyline points="936.6,488.1 936.6,499.8 941.0,514.5 938.9,532.3 931.6,547.0 922.8,558.8 916.9,570.5 922.8,585.2"/>
<polygon points="534.9,214.6 568.7,211.0 634.8,208.0 629.0,232.3 615.7,255.8 605.4,272.0 600.3,273.4 599.5,282.2 604.0,295.4 601.0,305.7 589.3,314.5 577.5,322.6 569.4,317.5 561.4,324.0 548.1,328.5 542.3,329.2 529.0,326.3 521.7,323.3 515.8,324.8 512.9,308.6 512.1,288.1 518.8,285.1 521.7,270.4 524.6,261.6 532.0,242.5 529.0,238.1 533.4,226.4 532.0,217.6"/>
<polygon points="511.6,327.6 502.8,337.9 507.2,346.7 502.8,354.0 501.4,374.6 505.8,373.2 507.2,376.1 502.8,379.0 501.4,383.4 496.9,380.5 494.0,383.4 499.9,387.8 502.8,389.3 499.9,393.7 495.5,390.8 492.5,395.2 496.9,398.1 494.0,401.1 488.1,393.7 485.2,398.1 491.1,404.0 486.7,405.5 482.3,401.1 477.8,409.9 483.7,415.8 491.1,418.7 489.6,424.6 483.7,421.6 479.3,427.5 477.8,431.9 482.3,434.9 479.3,437.8 476.4,440.7 482.2,445.1 494.0,448.8 524.8,447.3 560.1,442.9 589.5,439.2 595.3,426.0 590.9,415.7 589.5,392.2 582.1,373.2 582.1,354.0 579.2,339.4 579.2,323.2 570.4,317.3 561.4,324.0 548.1,328.5 542.3,329.2 529.0,326.3 521.7,323.3 515.8,324.8"/>
<polygon points="429.0,365.7 467.2,365.7 468.6,356.2 476.0,351.8 503.9,350.3 502.8,354.0 501.4,374.6 505.8,373.2 507.2,376.1 502.8,379.0 501.4,383.4 496.9,380.5 494.0,383.4 499.9,387.8 502.8,389.3 499.9,393.7 495.5,390.8 492.5,395.2 496.9,398.1 494.0,401.1 488.1,393.7 485.2,398.1 491.1,404.0 486.7,405.5 482.3,401.1 477.8,409.9 483.7,415.8 491.1,418.7 489.6,424.6 483.7,421.6 479.3,427.5 477.8,431.9 482.3,434.9 479.3,437.8 476.4,440.7 482.2,445.1 490.3,447.9 487.3,464.1 493.2,478.8 502.0,483.2 518.2,492.0 525.5,499.3 534.3,515.5 538.8,521.4 552.0,530.2 547.6,536.0 550.5,545.6 555.6,547.3 552.7,553.2 560.0,560.5 561.5,572.3 567.4,584.0 564.5,592.8 568.9,600.2 571.8,610.4 564.5,619.3 564.5,627.3 541.0,628.8 529.2,625.9 505.7,627.3 489.5,624.4 467.5,628.1 446.9,627.3 445.5,614.9 451.4,601.6 451.4,598.7 422.0,593.6 422.7,588.4 427.9,584.0 432.3,572.3 433.7,566.4 433.7,545.8 431.5,532.6 428.0,523.8 429.5,510.0 436.0,498.0 437.0,487.0 440.7,464.9 442.2,448.7 439.3,439.9 426.0,436.9 423.1,422.3 420.9,401.7 423.1,381.1 429.0,365.7"/>
<polygon points="333.5,363.5 377.6,364.2 429.0,365.7 423.1,381.1 420.9,401.7 423.1,422.3 426.0,436.9 439.3,439.9 442.2,448.7 440.7,464.9 437.0,487.0 436.0,498.0 429.5,510.0 428.0,523.8 431.5,532.6 433.7,545.8 433.7,566.4 432.3,572.3 427.9,584.0 422.7,588.4 422.0,593.6 451.4,598.7 451.4,601.6 445.5,614.9 446.9,627.3 432.3,625.9 397.0,627.3 394.1,622.2 388.2,604.6 380.8,595.8 379.4,586.9 389.7,576.7 388.2,567.8 392.6,560.5 383.8,550.2 370.6,544.3 372.0,531.1 375.5,518.0 368.8,504.5 370.2,495.7 364.3,491.3 365.8,486.9 359.9,472.2 359.9,461.9 364.3,457.5 357.0,454.6 361.4,450.2 342.3,448.7 346.7,439.9 341.6,428.1 348.2,420.8 339.4,416.4 337.9,407.6 327.6,395.8 332.0,387.0 329.1,379.7 340.8,370.8 333.5,363.5"/>
<polygon points="490.3,447.9 494.0,448.8 524.8,447.3 560.1,442.9 589.5,439.2 595.3,426.0 604.9,436.2 610.7,449.4 612.2,461.1 619.5,460.4 621.0,456.6 641.6,458.9 659.3,459.5 671.1,458.8 687.2,461.7 712.2,461.0 702.0,472.3 710.8,478.1 700.6,482.5 705.0,486.9 718.2,489.9 718.9,511.9 694.7,514.1 685.6,514.0 669.5,518.4 663.6,540.4 653.3,539.0 604.9,544.1 582.8,544.9 555.6,547.3 550.5,545.6 547.6,536.0 552.0,530.2 538.8,521.4 534.3,515.5 525.5,499.3 518.2,492.0 502.0,483.2 493.2,478.8 487.3,464.1"/>
<polygon points="585.9,380.2 602.0,378.8 609.4,373.6 624.1,372.1 638.8,374.3 638.8,370.7 644.6,367.0 650.5,364.1 656.4,349.4 675.5,348.6 694.6,351.6 724.0,344.2 728.4,345.7 722.5,350.8 728.4,358.2 734.2,362.6 728.4,368.5 735.7,374.3 737.2,381.7 732.8,387.6 743.0,387.6 738.6,393.4 729.8,394.9 737.2,402.3 743.0,406.7 741.6,414.0 731.3,416.9 734.2,425.8 726.9,431.6 710.7,436.0 712.2,441.9 710.7,450.7 716.6,456.6 712.2,461.0 687.2,461.7 671.1,458.8 659.3,459.5 641.6,458.9 621.0,456.6 619.5,460.4 612.2,461.1 610.7,449.4 604.9,436.2 595.3,426.0 590.9,415.7 589.5,392.2"/>
<polyline points="640.2,372.9 662.3,367.0 691.6,353.0"/>
<polygon points="743.0,406.7 762.3,403.2 794.6,404.7 801.9,401.0 809.3,404.7 813.7,405.4 812.2,416.4 825.4,426.7 828.4,438.5 829.8,451.7 825.4,466.4 821.0,478.1 822.5,489.9 815.1,494.3 810.7,500.2 806.3,491.4 797.5,482.5 794.6,481.8 788.7,491.4 782.8,493.6 776.9,506.0 774.0,514.9 769.6,526.6 763.7,536.9 759.3,548.6 757.8,558.9 755.4,575.8 730.4,575.8 699.5,575.1 677.5,570.7 668.7,567.0 665.8,559.7 673.1,555.3 667.2,549.4 663.6,540.4 669.5,518.4 685.6,514.0 694.7,514.1 718.9,511.9 718.2,489.9 705.0,486.9 700.6,482.5 710.8,478.1 702.0,472.3 712.2,461.0 716.6,456.6 710.7,450.7 712.2,441.9 710.7,436.0 726.9,431.6 734.2,425.8 731.3,416.9 741.6,414.0"/>
<polygon points="555.6,547.3 582.8,544.9 604.9,544.1 653.3,539.0 663.6,540.4 667.2,549.4 673.1,555.3 665.8,559.7 668.7,567.0 677.5,570.7 665.8,575.8 662.8,583.2 665.8,592.0 655.5,589.0 651.1,594.9 659.9,600.8 646.7,608.1 651.1,619.9 648.1,628.7 650.3,641.9 623.2,641.9 621.0,643.4 608.5,672.8 582.0,671.3 584.2,655.1 583.5,637.5 565.9,633.1 564.5,627.3 564.5,619.3 571.8,610.4 568.9,600.2 564.5,592.8 567.4,584.0 561.5,572.3 560.0,560.5 552.7,553.2"/>
<polygon points="665.8,575.8 677.5,571.4 699.5,575.1 730.4,575.8 755.4,575.8 757.8,558.9 759.3,548.6 763.7,536.9 769.6,526.6 774.0,514.9 776.9,506.0 782.8,493.6 788.7,491.4 794.6,481.8 797.5,482.5 806.3,491.4 810.7,500.2 811.5,522.2 809.3,531.0 801.9,551.6 796.0,573.6 793.1,590.0 792.0,595.5 789.1,605.8 787.6,616.0 778.8,620.4 752.4,621.4 748.0,628.7 749.5,637.5 758.3,641.9 752.4,655.1 736.3,663.9 727.4,681.0 674.6,681.0 673.1,671.3 677.5,663.9 683.4,655.1 681.9,646.3 671.6,644.9 659.9,647.8 650.3,641.9 648.1,628.7 651.1,619.9 646.7,608.1 659.9,600.8 651.1,594.9 655.5,589.0 665.8,592.0 662.8,583.2"/>
<polygon points="825.4,426.7 860.7,432.6 851.9,439.9 847.4,450.2 850.4,454.6 848.9,466.4 838.6,473.7 831.3,491.4 822.5,489.9 821.0,478.1 825.4,466.4 829.8,451.7 828.4,438.5"/>
<polygon points="728.4,345.7 723.5,343.4 723.5,334.6 733.8,333.2 730.8,318.5 739.7,312.6 741.1,300.8 758.8,300.8 763.2,287.6 770.5,296.4 780.8,309.7 788.1,314.1 794.0,325.8 791.1,334.6 805.8,339.0 811.6,350.8 830.7,340.5 836.6,334.6 841.0,340.5 844.7,356.7 846.9,362.5 866.0,366.9 876.3,380.2 883.6,381.6 885.1,387.5 884.5,392.6 901.4,388.2 916.0,394.1 921.9,388.2 926.3,394.1 941.0,392.6 948.4,382.3 958.6,366.2 964.5,364.7 976.3,375.0 986.5,380.8 976.3,388.2 974.8,395.5 966.0,399.9 967.5,411.7 963.0,422.0 954.2,429.3 955.7,441.1 952.8,457.2 939.5,457.2 923.4,460.2 902.8,449.9 872.0,442.5 873.4,435.2 860.7,432.6 825.4,426.7 812.2,416.4 813.7,405.4 809.3,404.7 801.9,401.0 794.6,404.7 762.3,403.2 743.0,406.7 737.2,402.3 729.8,394.9 738.6,393.4 743.0,387.6 732.8,387.6 737.2,381.7 735.7,374.3 728.4,368.5 734.2,362.6 728.4,358.2 722.5,350.8"/>
<polygon points="810.7,500.2 815.1,494.3 822.5,489.9 831.3,491.4 838.6,473.7 848.9,466.4 850.4,454.6 847.4,450.2 851.9,439.9 860.7,432.6 873.4,435.2 872.0,442.5 902.8,449.9 923.4,460.2 939.5,457.2 952.8,457.2 954.2,466.0 945.4,476.3 933.7,480.7 932.2,485.1 946.9,483.7 955.7,479.3 966.0,480.0 968.9,477.8 995.4,476.3 1008.6,479.3 1011.5,483.7 1008.6,486.6 1002.7,483.7 998.3,491.0 993.9,496.9 999.8,498.4 993.9,501.3 995.4,510.1 990.9,513.0 995.4,516.0 990.9,520.4 996.8,526.3 992.4,535.1 988.0,546.8 986.5,541.0 980.7,541.0 976.3,539.5 971.9,542.4 968.9,538.0 958.6,541.0 959.5,549.9 952.1,560.2 941.9,563.2 936.0,566.1 938.9,574.9 934.5,585.2 924.2,583.7 922.8,589.6 913.9,589.6 915.4,595.5 906.6,602.8 911.0,610.2 899.3,616.0 899.3,621.9 891.9,624.9 896.3,635.1 890.4,646.9 880.2,646.9 884.6,658.6 875.8,660.1 883.1,666.0 878.7,681.0 787.6,681.0 784.7,655.7 780.3,632.2 778.8,620.4 787.6,616.0 789.1,605.8 792.0,595.5 793.1,590.0 796.0,573.6 801.9,551.6 809.3,531.0 811.5,522.2"/>
</g>
<text x="560.1" y="263.4" font-family='"DejaVu Sans", "Liberation Sans", sans-serif' font-size="22.5" fill="#000" text-anchor="middle">Cinere</text>
<text x="560.1" y="300.0" font-family='"DejaVu Sans", "Liberation Sans", sans-serif' font-size="22.5" fill="#000" text-anchor="middle">1,752</text>
<text x="533.9" y="379.3" font-family='"DejaVu Sans", "Liberation Sans", sans-serif' font-size="22.5" fill="#000" text-anchor="middle">Limo</text>
<text x="533.5" y="415.3" font-family='"DejaVu Sans", "Liberation Sans", sans-serif' font-size="22.5" fill="#000" text-anchor="middle">5,077</text>
<text x="390.3" y="487.2" font-family='"DejaVu Sans", "Liberation Sans", sans-serif' font-size="22.5" fill="#000" text-anchor="middle">Bojongsari</text>
<text x="390.3" y="523.9" font-family='"DejaVu Sans", "Liberation Sans", sans-serif' font-size="22.5" fill="#000" text-anchor="middle">10,742</text>
<text x="591.9" y="479.8" font-family='"DejaVu Sans", "Liberation Sans", sans-serif' font-size="22.5" fill="#000" text-anchor="middle">Pancoranmas</text>
<text x="592.2" y="515.7" font-family='"DejaVu Sans", "Liberation Sans", sans-serif' font-size="22.5" fill="#000" text-anchor="middle">7,452</text>
<text x="675.7" y="399.6" font-family='"DejaVu Sans", "Liberation Sans", sans-serif' font-size="22.5" fill="#000" text-anchor="middle">Beji</text>
<text x="675.7" y="434.8" font-family='"DejaVu Sans", "Liberation Sans", sans-serif' font-size="22.5" fill="#000" text-anchor="middle">7,449</text>
<text x="749.3" y="473.3" font-family='"DejaVu Sans", "Liberation Sans", sans-serif' font-size="22.5" fill="#000" text-anchor="middle">Sukmajaya</text>
<text x="748.9" y="509.2" font-family='"DejaVu Sans", "Liberation Sans", sans-serif' font-size="22.5" fill="#000" text-anchor="middle">9,792</text>
<text x="836.5" y="381.9" font-family='"DejaVu Sans", "Liberation Sans", sans-serif' font-size="22.5" fill="#000" text-anchor="middle">Cimanggis</text>
<text x="836.1" y="417.2" font-family='"DejaVu Sans", "Liberation Sans", sans-serif' font-size="22.5" fill="#000" text-anchor="middle">448</text>
<text x="889.9" y="545.1" font-family='"DejaVu Sans", "Liberation Sans", sans-serif' font-size="22.5" fill="#000" text-anchor="middle">Tapos</text>
<text x="891.4" y="581.5" font-family='"DejaVu Sans", "Liberation Sans", sans-serif' font-size="22.5" fill="#000" text-anchor="middle">16,663</text>
<rect x="38.2" y="649" width="364.8" height="28" fill="#fff" opacity="0.85"/>
<text y="670.6" font-family='"Liberation Sans", Arial, sans-serif' font-size="22.5" fill="#666"><tspan x="42.2" textLength="18.2" lengthAdjust="spacingAndGlyphs">©</tspan> <tspan x="65.2" textLength="51.6" lengthAdjust="spacingAndGlyphs">2025</tspan> <tspan x="123.2" textLength="80.6" lengthAdjust="spacingAndGlyphs">Mapbox</tspan> <tspan x="213.7" textLength="18.6" lengthAdjust="spacingAndGlyphs">©</tspan> <tspan x="237.7" textLength="160.6" lengthAdjust="spacingAndGlyphs">OpenStreetMap</tspan></text>
</g></svg>
<svg class="treemap" width="960" height="580" viewBox="1385 138 960 580" style="position:absolute;left:1385px;top:138px;overflow:hidden">
<rect x="1396" y="147" width="204" height="166" fill="#92402D"/>
<rect x="1396" y="317" width="204" height="134" fill="#B5522F"/>
<rect x="1396" y="453" width="204" height="134" fill="#B5522F"/>
<rect x="1396" y="589" width="204" height="122" fill="#C15931"/>
<rect x="1602" y="147" width="192" height="252" fill="#C55C31"/>
<rect x="1602" y="401" width="192" height="110" fill="#CE6631"/>
<rect x="1602" y="513" width="192" height="104" fill="#D66E33"/>
<rect x="1602" y="619" width="192" height="92" fill="#DC7535"/>
<rect x="1796" y="147" width="110" height="157" fill="#DF7A38"/>
<rect x="1908" y="147" width="108" height="157" fill="#DF7A38"/>
<rect x="2018" y="147" width="106" height="157" fill="#DF7B39"/>
<rect x="2126" y="147" width="96" height="157" fill="#E2833C"/>
<rect x="2224" y="147" width="96" height="157" fill="#E2843D"/>
<rect x="1796" y="306" width="136" height="111" fill="#E4853F"/>
<rect x="1934" y="306" width="80" height="147" fill="#E7984B"/>
<rect x="2016" y="306" width="76" height="147" fill="#E7994B"/>
<rect x="2094" y="306" width="76" height="147" fill="#E8994C"/>
<rect x="2172" y="306" width="74" height="147" fill="#E89A4C"/>
<rect x="2248" y="306" width="72" height="147" fill="#E89B4D"/>
<rect x="1796" y="419" width="136" height="104" fill="#E58842"/>
<rect x="1796" y="525" width="136" height="96" fill="#E68E46"/>
<rect x="1796" y="623" width="136" height="88" fill="#E79449"/>
<rect x="1934" y="455" width="122" height="86" fill="#E89C50"/>
<rect x="1934" y="543" width="122" height="82" fill="#E99D51"/>
<rect x="1934" y="627" width="122" height="84" fill="#E99E52"/>
<rect x="2058" y="455" width="116" height="86" fill="#E99E52"/>
<rect x="2058" y="543" width="116" height="58" fill="#ECAC60"/>
<rect x="2058" y="603" width="116" height="56" fill="#ECAD61"/>
<rect x="2058" y="661" width="116" height="50" fill="#EDB064"/>
<rect x="2176" y="455" width="58" height="100" fill="#EDB263"/>
<rect x="2236" y="455" width="44" height="100" fill="#EEB966"/>
<rect x="2282" y="455" width="38" height="100" fill="#EFBC68"/>
<rect x="2176" y="557" width="52" height="72" fill="#F0BE6B"/>
<rect x="2230" y="557" width="50" height="72" fill="#F0BD6A"/>
<rect x="2282" y="557" width="38" height="72" fill="#EFC36C"/>
<rect x="2176" y="631" width="62" height="42" fill="#EFC772"/>
<rect x="2176" y="675" width="62" height="36" fill="#EEC872"/>
<rect x="2240" y="631" width="46" height="42" fill="#EDC76F"/>
<rect x="2240" y="675" width="46" height="36" fill="#EDCB70"/>
<rect x="2288" y="631" width="32" height="36" fill="#EECB70"/>
<rect x="2288" y="669" width="32" height="28" fill="#EDCF75"/>
<rect x="2288" y="699" width="14" height="12" fill="#EDD06F"/>
<rect x="2304" y="699" width="16" height="5.5" fill="#EDD070"/>
<rect x="2304" y="706.5" width="16" height="4.5" fill="#EDD070"/>
<rect x="1393" y="144" width="210" height="171.5" fill="none" stroke="#000" stroke-width="2"/>
<rect x="1394.8" y="145.8" width="206.4" height="167.9" fill="none" stroke="#fff" stroke-width="1.6"/>
<text x="1410.0" y="189.0" font-family='"Liberation Sans", Arial, sans-serif' font-size="24" fill="#fff" text-anchor="start" textLength="110.0" lengthAdjust="spacingAndGlyphs">Sukamaju</text>
<text x="1410.0" y="225.0" font-family='"Liberation Sans", Arial, sans-serif' font-size="24" fill="#fff" text-anchor="start" textLength="64.0" lengthAdjust="spacingAndGlyphs">5,170</text>
<text x="1410.0" y="357.0" font-family='"Liberation Sans", Arial, sans-serif' font-size="24" fill="#fff" text-anchor="start" textLength="42.0" lengthAdjust="spacingAndGlyphs">Beji</text>
<text x="1410.0" y="393.0" font-family='"Liberation Sans", Arial, sans-serif' font-size="24" fill="#fff" text-anchor="start" textLength="64.0" lengthAdjust="spacingAndGlyphs">4,199</text>
<text x="1410.0" y="495.0" font-family='"Liberation Sans", Arial, sans-serif' font-size="24" fill="#fff" text-anchor="start" textLength="123.0" lengthAdjust="spacingAndGlyphs">LUAR KOTA</text>
<text x="1410.0" y="531.0" font-family='"Liberation Sans", Arial, sans-serif' font-size="24" fill="#fff" text-anchor="start" textLength="78.0" lengthAdjust="spacingAndGlyphs">DEPOK</text>
<text x="1410.0" y="631.0" font-family='"Liberation Sans", Arial, sans-serif' font-size="24" fill="#fff" text-anchor="start" textLength="104.0" lengthAdjust="spacingAndGlyphs">Cipayung</text>
<text x="1410.0" y="667.0" font-family='"Liberation Sans", Arial, sans-serif' font-size="24" fill="#fff" text-anchor="start" textLength="64.0" lengthAdjust="spacingAndGlyphs">3,823</text>
<text x="1616.0" y="189.0" font-family='"Liberation Sans", Arial, sans-serif' font-size="24" fill="#fff" text-anchor="start" textLength="94.0" lengthAdjust="spacingAndGlyphs">Jatijajar</text>
<text x="1616.0" y="355.0" font-family='"Liberation Sans", Arial, sans-serif' font-size="24" fill="#fff" text-anchor="start" textLength="64.0" lengthAdjust="spacingAndGlyphs">3,510</text>
<text x="1616.0" y="443.0" font-family='"Liberation Sans", Arial, sans-serif' font-size="24" fill="#fff" text-anchor="start" textLength="107.0" lengthAdjust="spacingAndGlyphs">Baktijaya</text>
<text x="1616.0" y="479.0" font-family='"Liberation Sans", Arial, sans-serif' font-size="24" fill="#fff" text-anchor="start" textLength="64.0" lengthAdjust="spacingAndGlyphs">3,246</text>
<text x="1616.0" y="555.0" font-family='"Liberation Sans", Arial, sans-serif' font-size="24" fill="#fff" text-anchor="start" textLength="111.0" lengthAdjust="spacingAndGlyphs">Cilangkap</text>
<text x="1616.0" y="591.0" font-family='"Liberation Sans", Arial, sans-serif' font-size="24" fill="#fff" text-anchor="start" textLength="64.0" lengthAdjust="spacingAndGlyphs">3,017</text>
<text x="1616.0" y="661.0" font-family='"Liberation Sans", Arial, sans-serif' font-size="24" fill="#fff" text-anchor="start" textLength="123.0" lengthAdjust="spacingAndGlyphs">Sukmajaya</text>
<text x="1922.0" y="189.0" font-family='"Liberation Sans", Arial, sans-serif' font-size="24" fill="#fff" text-anchor="start" textLength="79.0" lengthAdjust="spacingAndGlyphs">Bojong</text>
<text x="1810.0" y="349.0" font-family='"Liberation Sans", Arial, sans-serif' font-size="24" fill="#000" text-anchor="start" textLength="66.0" lengthAdjust="spacingAndGlyphs">Curug</text>
<text x="1810.0" y="385.0" font-family='"Liberation Sans", Arial, sans-serif' font-size="24" fill="#000" text-anchor="start" textLength="64.0" lengthAdjust="spacingAndGlyphs">2,299</text>
<text x="1810.0" y="461.0" font-family='"Liberation Sans", Arial, sans-serif' font-size="24" fill="#000" text-anchor="start" textLength="65.0" lengthAdjust="spacingAndGlyphs">Tapos</text>
<text x="1810.0" y="497.0" font-family='"Liberation Sans", Arial, sans-serif' font-size="24" fill="#000" text-anchor="start" textLength="64.0" lengthAdjust="spacingAndGlyphs">2,179</text>
<text x="1948.0" y="669.0" font-family='"Liberation Sans", Arial, sans-serif' font-size="24" fill="#000" text-anchor="start" textLength="71.0" lengthAdjust="spacingAndGlyphs">Depok</text>
<defs><filter id="tsh" x="-5%" y="-10%" width="110%" height="130%"><feGaussianBlur stdDeviation="2.5"/></filter></defs>
<rect x="1591" y="207" width="697" height="122" fill="#000" opacity="0.28" filter="url(#tsh)"/>
<rect x="1589" y="204" width="696.5" height="122" fill="#fff" stroke="#d4d4d4" stroke-width="1.5"/>
<text y="256.3" font-family='"Liberation Sans", Arial, sans-serif' font-size="24" fill="#787878"><tspan x="1614.1" textLength="130.5" lengthAdjust="spacingAndGlyphs">Kelurahan:</tspan></text>
<text y="256.3" font-family='"Liberation Sans", Arial, sans-serif' font-size="24" fill="#333" font-weight="bold"><tspan x="2138.8" textLength="120.8" lengthAdjust="spacingAndGlyphs">Sukamaju</tspan></text>
<text y="292.4" font-family='"Liberation Sans", Arial, sans-serif' font-size="24" fill="#787878"><tspan x="1614.1" textLength="72.2" lengthAdjust="spacingAndGlyphs">Count</tspan> <tspan x="1692.0" textLength="26.1" lengthAdjust="spacingAndGlyphs">of</tspan> <tspan x="1723.3" textLength="136.2" lengthAdjust="spacingAndGlyphs">Puskesmas</tspan> <tspan x="1865.2" textLength="114.0" lengthAdjust="spacingAndGlyphs">Diagnosa</tspan> <tspan x="1985.0" textLength="135.2" lengthAdjust="spacingAndGlyphs">September</tspan> <tspan x="2126.7" textLength="5.6" lengthAdjust="spacingAndGlyphs">:</tspan></text>
<text y="292.4" font-family='"Liberation Sans", Arial, sans-serif' font-size="24" fill="#333" font-weight="bold"><tspan x="2138.8" textLength="69.9" lengthAdjust="spacingAndGlyphs">5,170</tspan></text>
</svg>
<svg class="bar" width="1420" height="130" viewBox="0 700 1420 130" style="position:absolute;left:0px;top:700px;overflow:hidden">
<text y="726.9" font-family='"Liberation Sans", Arial, sans-serif' font-size="22" fill="#666"><tspan x="18.4" textLength="129.8" lengthAdjust="spacingAndGlyphs">Berdasarkan</tspan> <tspan x="154.9" textLength="53.0" lengthAdjust="spacingAndGlyphs">Jenis</tspan> <tspan x="213.4" textLength="82.6" lengthAdjust="spacingAndGlyphs">Kelamin</tspan></text>
<rect x="26.3" y="726.5" width="1.6" height="54" fill="#f0f0f0"/>
<rect x="153.2" y="726.5" width="1.6" height="54" fill="#f0f0f0"/>
<rect x="280.2" y="726.5" width="1.6" height="54" fill="#f0f0f0"/>
<rect x="407.2" y="726.5" width="1.6" height="54" fill="#f0f0f0"/>
<rect x="534.1" y="726.5" width="1.6" height="54" fill="#f0f0f0"/>
<rect x="661.1" y="726.5" width="1.6" height="54" fill="#f0f0f0"/>
<rect x="788.0" y="726.5" width="1.6" height="54" fill="#f0f0f0"/>
<rect x="915.0" y="726.5" width="1.6" height="54" fill="#f0f0f0"/>
<rect x="1041.9" y="726.5" width="1.6" height="54" fill="#f0f0f0"/>
<rect x="1168.8" y="726.5" width="1.6" height="54" fill="#f0f0f0"/>
<rect x="1295.8" y="726.5" width="1.6" height="54" fill="#f0f0f0"/>
<rect x="27" y="771.4" width="1385" height="1.6" fill="#f0f0f0"/>
<rect x="27.1" y="733" width="814.6" height="34" fill="#92402D"/>
<rect x="841.7" y="733" width="506" height="34" fill="#EDD377"/>
<text x="433.0" y="758.7" font-family='"Liberation Sans", Arial, sans-serif' font-size="24" fill="#fff" text-anchor="middle" textLength="85.0" lengthAdjust="spacingAndGlyphs">61.04%</text>
<text x="1092.6" y="758.7" font-family='"Liberation Sans", Arial, sans-serif' font-size="24" fill="#fff" text-anchor="middle" textLength="85.0" lengthAdjust="spacingAndGlyphs">38.96%</text>
<text x="27.1" y="811.1" font-family='"Liberation Sans", Arial, sans-serif' font-size="24" fill="#666" text-anchor="start" textLength="27.5" lengthAdjust="spacingAndGlyphs">0K</text>
<text x="152.7" y="811.1" font-family='"Liberation Sans", Arial, sans-serif' font-size="24" fill="#666" text-anchor="middle" textLength="42.0" lengthAdjust="spacingAndGlyphs">10K</text>
<text x="279.6" y="811.1" font-family='"Liberation Sans", Arial, sans-serif' font-size="24" fill="#666" text-anchor="middle" textLength="42.0" lengthAdjust="spacingAndGlyphs">20K</text>
<text x="406.6" y="811.1" font-family='"Liberation Sans", Arial, sans-serif' font-size="24" fill="#666" text-anchor="middle" textLength="42.0" lengthAdjust="spacingAndGlyphs">30K</text>
<text x="533.5" y="811.1" font-family='"Liberation Sans", Arial, sans-serif' font-size="24" fill="#666" text-anchor="middle" textLength="42.0" lengthAdjust="spacingAndGlyphs">40K</text>
<text x="660.5" y="811.1" font-family='"Liberation Sans", Arial, sans-serif' font-size="24" fill="#666" text-anchor="middle" textLength="42.0" lengthAdjust="spacingAndGlyphs">50K</text>
<text x="787.4" y="811.1" font-family='"Liberation Sans", Arial, sans-serif' font-size="24" fill="#666" text-anchor="middle" textLength="42.0" lengthAdjust="spacingAndGlyphs">60K</text>
<text x="914.4" y="811.1" font-family='"Liberation Sans", Arial, sans-serif' font-size="24" fill="#666" text-anchor="middle" textLength="42.0" lengthAdjust="spacingAndGlyphs">70K</text>
<text x="1041.3" y="811.1" font-family='"Liberation Sans", Arial, sans-serif' font-size="24" fill="#666" text-anchor="middle" textLength="42.0" lengthAdjust="spacingAndGlyphs">80K</text>
<text x="1168.2" y="811.1" font-family='"Liberation Sans", Arial, sans-serif' font-size="24" fill="#666" text-anchor="middle" textLength="42.0" lengthAdjust="spacingAndGlyphs">90K</text>
<text x="1295.2" y="811.1" font-family='"Liberation Sans", Arial, sans-serif' font-size="24" fill="#666" text-anchor="middle" textLength="58.5" lengthAdjust="spacingAndGlyphs">100K</text>
</svg>
<svg class="line" width="1400" height="445" viewBox="0 860 1400 445" style="position:absolute;left:0px;top:860px;overflow:hidden">
<text x="742.5" y="898.0" font-family='"Liberation Sans", Arial, sans-serif' font-size="22.5" fill="#333" text-anchor="middle" textLength="213.0" lengthAdjust="spacingAndGlyphs" stroke="#333" stroke-width="0.4">Tanggal Kunjungan</text>
<text transform="translate(66.2,1075) rotate(-90)" font-family='"Liberation Sans", Arial, sans-serif' font-size="22.5" fill="#333" stroke="#333" stroke-width="0.5" text-anchor="middle" textLength="330" lengthAdjust="spacingAndGlyphs">Count of Puskesmas Diagno...</text>
<rect x="136.4" y="908" width="1.5" height="342" fill="#f0f0f0"/>
<rect x="129" y="1010.8000000000001" width="1221" height="1.8" fill="#efefef"/>
<rect x="129" y="1124.3999999999999" width="1221" height="1.8" fill="#efefef"/>
<rect x="137" y="1241.7" width="1213" height="1.6" fill="#f0f0f0"/>
<rect x="136.3" y="1242" width="1.6" height="8" fill="#f0f0f0"/>
<rect x="183.0" y="1242" width="1.6" height="8" fill="#f0f0f0"/>
<rect x="229.6" y="1242" width="1.6" height="8" fill="#f0f0f0"/>
<rect x="276.3" y="1242" width="1.6" height="8" fill="#f0f0f0"/>
<rect x="322.9" y="1242" width="1.6" height="8" fill="#f0f0f0"/>
<rect x="369.6" y="1242" width="1.6" height="8" fill="#f0f0f0"/>
<rect x="416.3" y="1242" width="1.6" height="8" fill="#f0f0f0"/>
<rect x="462.9" y="1242" width="1.6" height="8" fill="#f0f0f0"/>
<rect x="509.6" y="1242" width="1.6" height="8" fill="#f0f0f0"/>
<rect x="556.2" y="1242" width="1.6" height="8" fill="#f0f0f0"/>
<rect x="602.9" y="1242" width="1.6" height="8" fill="#f0f0f0"/>
<rect x="649.6" y="1242" width="1.6" height="8" fill="#f0f0f0"/>
<rect x="696.2" y="1242" width="1.6" height="8" fill="#f0f0f0"/>
<rect x="742.9" y="1242" width="1.6" height="8" fill="#f0f0f0"/>
<rect x="789.5" y="1242" width="1.6" height="8" fill="#f0f0f0"/>
<rect x="836.2" y="1242" width="1.6" height="8" fill="#f0f0f0"/>
<rect x="882.9" y="1242" width="1.6" height="8" fill="#f0f0f0"/>
<rect x="929.5" y="1242" width="1.6" height="8" fill="#f0f0f0"/>
<rect x="976.2" y="1242" width="1.6" height="8" fill="#f0f0f0"/>
<rect x="1022.8" y="1242" width="1.6" height="8" fill="#f0f0f0"/>
<rect x="1069.5" y="1242" width="1.6" height="8" fill="#f0f0f0"/>
<rect x="1116.2" y="1242" width="1.6" height="8" fill="#f0f0f0"/>
<rect x="1162.8" y="1242" width="1.6" height="8" fill="#f0f0f0"/>
<rect x="1209.5" y="1242" width="1.6" height="8" fill="#f0f0f0"/>
<rect x="1256.1" y="1242" width="1.6" height="8" fill="#f0f0f0"/>
<rect x="1302.8" y="1242" width="1.6" height="8" fill="#f0f0f0"/>
<rect x="1349.5" y="1242" width="1.6" height="8" fill="#f0f0f0"/>
<text x="94.8" y="1017.9" font-family='"Liberation Sans", Arial, sans-serif' font-size="24" fill="#666" text-anchor="start" textLength="29.0" lengthAdjust="spacingAndGlyphs">4K</text>
<text x="94.8" y="1131.9" font-family='"Liberation Sans", Arial, sans-serif' font-size="24" fill="#666" text-anchor="start" textLength="29.0" lengthAdjust="spacingAndGlyphs">2K</text>
<text x="94.8" y="1230.0" font-family='"Liberation Sans", Arial, sans-serif' font-size="24" fill="#666" text-anchor="start" textLength="29.0" lengthAdjust="spacingAndGlyphs">0K</text>
<text x="159.2" y="1275.6" font-family='"Liberation Sans", Arial, sans-serif' font-size="24" fill="#666" text-anchor="middle" textLength="13.0" lengthAdjust="spacingAndGlyphs">1</text>
<text x="205.9" y="1275.6" font-family='"Liberation Sans", Arial, sans-serif' font-size="24" fill="#666" text-anchor="middle" textLength="13.0" lengthAdjust="spacingAndGlyphs">2</text>
<text x="252.6" y="1275.6" font-family='"Liberation Sans", Arial, sans-serif' font-size="24" fill="#666" text-anchor="middle" textLength="13.0" lengthAdjust="spacingAndGlyphs">3</text>
<text x="299.4" y="1275.6" font-family='"Liberation Sans", Arial, sans-serif' font-size="24" fill="#666" text-anchor="middle" textLength="13.0" lengthAdjust="spacingAndGlyphs">4</text>
<text x="346.1" y="1275.6" font-family='"Liberation Sans", Arial, sans-serif' font-size="24" fill="#666" text-anchor="middle" textLength="13.0" lengthAdjust="spacingAndGlyphs">5</text>
<text x="392.8" y="1275.6" font-family='"Liberation Sans", Arial, sans-serif' font-size="24" fill="#666" text-anchor="middle" textLength="13.0" lengthAdjust="spacingAndGlyphs">6</text>
<text x="439.5" y="1275.6" font-family='"Liberation Sans", Arial, sans-serif' font-size="24" fill="#666" text-anchor="middle" textLength="13.0" lengthAdjust="spacingAndGlyphs">7</text>
<text x="486.2" y="1275.6" font-family='"Liberation Sans", Arial, sans-serif' font-size="24" fill="#666" text-anchor="middle" textLength="13.0" lengthAdjust="spacingAndGlyphs">8</text>
<text x="533.0" y="1275.6" font-family='"Liberation Sans", Arial, sans-serif' font-size="24" fill="#666" text-anchor="middle" textLength="13.0" lengthAdjust="spacingAndGlyphs">9</text>
<text x="579.7" y="1275.6" font-family='"Liberation Sans", Arial, sans-serif' font-size="24" fill="#666" text-anchor="middle" textLength="28.0" lengthAdjust="spacingAndGlyphs">10</text>
<text x="626.4" y="1275.6" font-family='"Liberation Sans", Arial, sans-serif' font-size="24" fill="#666" text-anchor="middle" textLength="28.0" lengthAdjust="spacingAndGlyphs">11</text>
<text x="673.1" y="1275.6" font-family='"Liberation Sans", Arial, sans-serif' font-size="24" fill="#666" text-anchor="middle" textLength="28.0" lengthAdjust="spacingAndGlyphs">12</text>
<text x="719.8" y="1275.6" font-family='"Liberation Sans", Arial, sans-serif' font-size="24" fill="#666" text-anchor="middle" textLength="28.0" lengthAdjust="spacingAndGlyphs">13</text>
<text x="766.6" y="1275.6" font-family='"Liberation Sans", Arial, sans-serif' font-size="24" fill="#666" text-anchor="middle" textLength="28.0" lengthAdjust="spacingAndGlyphs">14</text>
<text x="813.3" y="1275.6" font-family='"Liberation Sans", Arial, sans-serif' font-size="24" fill="#666" text-anchor="middle" textLength="28.0" lengthAdjust="spacingAndGlyphs">15</text>
<text x="860.0" y="1275.6" font-family='"Liberation Sans", Arial, sans-serif' font-size="24" fill="#666" text-anchor="middle" textLength="28.0" lengthAdjust="spacingAndGlyphs">16</text>
<text x="906.7" y="1275.6" font-family='"Liberation Sans", Arial, sans-serif' font-size="24" fill="#666" text-anchor="middle" textLength="28.0" lengthAdjust="spacingAndGlyphs">17</text>
<text x="953.4" y="1275.6" font-family='"Liberation Sans", Arial, sans-serif' font-size="24" fill="#666" text-anchor="middle" textLength="28.0" lengthAdjust="spacingAndGlyphs">18</text>
<text x="1000.2" y="1275.6" font-family='"Liberation Sans", Arial, sans-serif' font-size="24" fill="#666" text-anchor="middle" textLength="28.0" lengthAdjust="spacingAndGlyphs">19</text>
<text x="1046.9" y="1275.6" font-family='"Liberation Sans", Arial, sans-serif' font-size="24" fill="#666" text-anchor="middle" textLength="28.0" lengthAdjust="spacingAndGlyphs">20</text>
<text x="1093.6" y="1275.6" font-family='"Liberation Sans", Arial, sans-serif' font-size="24" fill="#666" text-anchor="middle" textLength="28.0" lengthAdjust="spacingAndGlyphs">21</text>
<text x="1140.3" y="1275.6" font-family='"Liberation Sans", Arial, sans-serif' font-size="24" fill="#666" text-anchor="middle" textLength="28.0" lengthAdjust="spacingAndGlyphs">22</text>
<text x="1187.0" y="1275.6" font-family='"Liberation Sans", Arial, sans-serif' font-size="24" fill="#666" text-anchor="middle" textLength="28.0" lengthAdjust="spacingAndGlyphs">23</text>
<text x="1233.8" y="1275.6" font-family='"Liberation Sans", Arial, sans-serif' font-size="24" fill="#666" text-anchor="middle" textLength="28.0" lengthAdjust="spacingAndGlyphs">24</text>
<text x="1280.5" y="1275.6" font-family='"Liberation Sans", Arial, sans-serif' font-size="24" fill="#666" text-anchor="middle" textLength="28.0" lengthAdjust="spacingAndGlyphs">25</text>
<text x="1327.2" y="1275.6" font-family='"Liberation Sans", Arial, sans-serif' font-size="24" fill="#666" text-anchor="middle" textLength="28.0" lengthAdjust="spacingAndGlyphs">26</text>
<defs>
<linearGradient id="lg0" gradientUnits="userSpaceOnUse" x1="159.2" y1="933.1" x2="205.9" y2="956.2"><stop offset="0" stop-color="#95422D"/><stop offset="1" stop-color="#A4492E"/></linearGradient>
<linearGradient id="lg1" gradientUnits="userSpaceOnUse" x1="205.9" y1="956.2" x2="252.6" y2="986.0"><stop offset="0" stop-color="#A4492E"/><stop offset="1" stop-color="#B7532F"/></linearGradient>
<linearGradient id="lg2" gradientUnits="userSpaceOnUse" x1="252.6" y1="986.0" x2="299.4" y2="1006.1"><stop offset="0" stop-color="#B7532F"/><stop offset="1" stop-color="#C25931"/></linearGradient>
<linearGradient id="lg3" gradientUnits="userSpaceOnUse" x1="299.4" y1="1006.1" x2="346.1" y2="1212.8"><stop offset="0" stop-color="#C25931"/><stop offset="1" stop-color="#EECE75"/></linearGradient>
<linearGradient id="lg4" gradientUnits="userSpaceOnUse" x1="346.1" y1="1212.8" x2="392.8" y2="994.5"><stop offset="0" stop-color="#EECE75"/><stop offset="1" stop-color="#BC5630"/></linearGradient>
<linearGradient id="lg5" gradientUnits="userSpaceOnUse" x1="392.8" y1="994.5" x2="439.5" y2="1214.3"><stop offset="0" stop-color="#BC5630"/><stop offset="1" stop-color="#EECF75"/></linearGradient>
<linearGradient id="lg6" gradientUnits="userSpaceOnUse" x1="439.5" y1="1214.3" x2="486.2" y2="928.0"><stop offset="0" stop-color="#EECF75"/><stop offset="1" stop-color="#92402D"/></linearGradient>
<linearGradient id="lg7" gradientUnits="userSpaceOnUse" x1="486.2" y1="928.0" x2="533.0" y2="977.4"><stop offset="0" stop-color="#92402D"/><stop offset="1" stop-color="#B2502F"/></linearGradient>
<linearGradient id="lg8" gradientUnits="userSpaceOnUse" x1="533.0" y1="977.4" x2="579.7" y2="1001.3"><stop offset="0" stop-color="#B2502F"/><stop offset="1" stop-color="#C05831"/></linearGradient>
<linearGradient id="lg9" gradientUnits="userSpaceOnUse" x1="579.7" y1="1001.3" x2="626.4" y2="996.5"><stop offset="0" stop-color="#C05831"/><stop offset="1" stop-color="#BD5730"/></linearGradient>
<linearGradient id="lg10" gradientUnits="userSpaceOnUse" x1="626.4" y1="996.5" x2="673.1" y2="1019.6"><stop offset="0" stop-color="#BD5730"/><stop offset="1" stop-color="#C55C31"/></linearGradient>
<linearGradient id="lg11" gradientUnits="userSpaceOnUse" x1="673.1" y1="1019.6" x2="719.8" y2="1036.5"><stop offset="0" stop-color="#C55C31"/><stop offset="1" stop-color="#CE6631"/></linearGradient>
<linearGradient id="lg12" gradientUnits="userSpaceOnUse" x1="719.8" y1="1036.5" x2="766.6" y2="1219.6"><stop offset="0" stop-color="#CE6631"/><stop offset="1" stop-color="#EDD377"/></linearGradient>
<linearGradient id="lg13" gradientUnits="userSpaceOnUse" x1="766.6" y1="1219.6" x2="813.3" y2="963.4"><stop offset="0" stop-color="#EDD377"/><stop offset="1" stop-color="#A94C2E"/></linearGradient>
<linearGradient id="lg14" gradientUnits="userSpaceOnUse" x1="813.3" y1="963.4" x2="860.0" y2="1011.2"><stop offset="0" stop-color="#A94C2E"/><stop offset="1" stop-color="#C35A31"/></linearGradient>
<linearGradient id="lg15" gradientUnits="userSpaceOnUse" x1="860.0" y1="1011.2" x2="906.7" y2="1042.6"><stop offset="0" stop-color="#C35A31"/><stop offset="1" stop-color="#D26A32"/></linearGradient>
<linearGradient id="lg16" gradientUnits="userSpaceOnUse" x1="906.7" y1="1042.6" x2="953.4" y2="1035.7"><stop offset="0" stop-color="#D26A32"/><stop offset="1" stop-color="#CE6531"/></linearGradient>
<linearGradient id="lg17" gradientUnits="userSpaceOnUse" x1="953.4" y1="1035.7" x2="1000.2" y2="1060.4"><stop offset="0" stop-color="#CE6531"/><stop offset="1" stop-color="#DD7736"/></linearGradient>
<linearGradient id="lg18" gradientUnits="userSpaceOnUse" x1="1000.2" y1="1060.4" x2="1046.9" y2="1033.9"><stop offset="0" stop-color="#DD7736"/><stop offset="1" stop-color="#CC6431"/></linearGradient>
<linearGradient id="lg19" gradientUnits="userSpaceOnUse" x1="1046.9" y1="1033.9" x2="1093.6" y2="1216.0"><stop offset="0" stop-color="#CC6431"/><stop offset="1" stop-color="#EDD076"/></linearGradient>
<linearGradient id="lg20" gradientUnits="userSpaceOnUse" x1="1093.6" y1="1216.0" x2="1140.3" y2="992.3"><stop offset="0" stop-color="#EDD076"/><stop offset="1" stop-color="#BA5530"/></linearGradient>
<linearGradient id="lg21" gradientUnits="userSpaceOnUse" x1="1140.3" y1="992.3" x2="1187.0" y2="1017.8"><stop offset="0" stop-color="#BA5530"/><stop offset="1" stop-color="#C45B31"/></linearGradient>
<linearGradient id="lg22" gradientUnits="userSpaceOnUse" x1="1187.0" y1="1017.8" x2="1233.8" y2="1032.7"><stop offset="0" stop-color="#C45B31"/><stop offset="1" stop-color="#CC6331"/></linearGradient>
<linearGradient id="lg23" gradientUnits="userSpaceOnUse" x1="1233.8" y1="1032.7" x2="1280.5" y2="1047.8"><stop offset="0" stop-color="#CC6331"/><stop offset="1" stop-color="#D56D33"/></linearGradient>
<linearGradient id="lg24" gradientUnits="userSpaceOnUse" x1="1280.5" y1="1047.8" x2="1327.2" y2="1078.7"><stop offset="0" stop-color="#D56D33"/><stop offset="1" stop-color="#E1803C"/></linearGradient>
</defs>
<line x1="159.2" y1="933.1" x2="205.9" y2="956.2" stroke="url(#lg0)" stroke-width="6.2" stroke-linecap="round"/>
<line x1="205.9" y1="956.2" x2="252.6" y2="986.0" stroke="url(#lg1)" stroke-width="6.2" stroke-linecap="round"/>
<line x1="252.6" y1="986.0" x2="299.4" y2="1006.1" stroke="url(#lg2)" stroke-width="6.2" stroke-linecap="round"/>
<line x1="299.4" y1="1006.1" x2="346.1" y2="1212.8" stroke="url(#lg3)" stroke-width="6.2" stroke-linecap="round"/>
<line x1="346.1" y1="1212.8" x2="392.8" y2="994.5" stroke="url(#lg4)" stroke-width="6.2" stroke-linecap="round"/>
<line x1="392.8" y1="994.5" x2="439.5" y2="1214.3" stroke="url(#lg5)" stroke-width="6.2" stroke-linecap="round"/>
<line x1="439.5" y1="1214.3" x2="486.2" y2="928.0" stroke="url(#lg6)" stroke-width="6.2" stroke-linecap="round"/>
<line x1="486.2" y1="928.0" x2="533.0" y2="977.4" stroke="url(#lg7)" stroke-width="6.2" stroke-linecap="round"/>
<line x1="533.0" y1="977.4" x2="579.7" y2="1001.3" stroke="url(#lg8)" stroke-width="6.2" stroke-linecap="round"/>
<line x1="579.7" y1="1001.3" x2="626.4" y2="996.5" stroke="url(#lg9)" stroke-width="6.2" stroke-linecap="round"/>
<line x1="626.4" y1="996.5" x2="673.1" y2="1019.6" stroke="url(#lg10)" stroke-width="6.2" stroke-linecap="round"/>
<line x1="673.1" y1="1019.6" x2="719.8" y2="1036.5" stroke="url(#lg11)" stroke-width="6.2" stroke-linecap="round"/>
<line x1="719.8" y1="1036.5" x2="766.6" y2="1219.6" stroke="url(#lg12)" stroke-width="6.2" stroke-linecap="round"/>
<line x1="766.6" y1="1219.6" x2="813.3" y2="963.4" stroke="url(#lg13)" stroke-width="6.2" stroke-linecap="round"/>
<line x1="813.3" y1="963.4" x2="860.0" y2="1011.2" stroke="url(#lg14)" stroke-width="6.2" stroke-linecap="round"/>
<line x1="860.0" y1="1011.2" x2="906.7" y2="1042.6" stroke="url(#lg15)" stroke-width="6.2" stroke-linecap="round"/>
<line x1="906.7" y1="1042.6" x2="953.4" y2="1035.7" stroke="url(#lg16)" stroke-width="6.2" stroke-linecap="round"/>
<line x1="953.4" y1="1035.7" x2="1000.2" y2="1060.4" stroke="url(#lg17)" stroke-width="6.2" stroke-linecap="round"/>
<line x1="1000.2" y1="1060.4" x2="1046.9" y2="1033.9" stroke="url(#lg18)" stroke-width="6.2" stroke-linecap="round"/>
<line x1="1046.9" y1="1033.9" x2="1093.6" y2="1216.0" stroke="url(#lg19)" stroke-width="6.2" stroke-linecap="round"/>
<line x1="1093.6" y1="1216.0" x2="1140.3" y2="992.3" stroke="url(#lg20)" stroke-width="6.2" stroke-linecap="round"/>
<line x1="1140.3" y1="992.3" x2="1187.0" y2="1017.8" stroke="url(#lg21)" stroke-width="6.2" stroke-linecap="round"/>
<line x1="1187.0" y1="1017.8" x2="1233.8" y2="1032.7" stroke="url(#lg22)" stroke-width="6.2" stroke-linecap="round"/>
<line x1="1233.8" y1="1032.7" x2="1280.5" y2="1047.8" stroke="url(#lg23)" stroke-width="6.2" stroke-linecap="round"/>
<line x1="1280.5" y1="1047.8" x2="1327.2" y2="1078.7" stroke="url(#lg24)" stroke-width="6.2" stroke-linecap="round"/>
<circle cx="159.2" cy="933.1" r="5.9" fill="#95422D"/>
<circle cx="205.9" cy="956.2" r="5.9" fill="#A4492E"/>
<circle cx="252.6" cy="986.0" r="5.9" fill="#B7532F"/>
<circle cx="299.4" cy="1006.1" r="5.9" fill="#C25931"/>
<circle cx="346.1" cy="1212.8" r="5.9" fill="#EECE75"/>
<circle cx="392.8" cy="994.5" r="5.9" fill="#BC5630"/>
<circle cx="439.5" cy="1214.3" r="5.9" fill="#EECF75"/>
<circle cx="486.2" cy="928.0" r="5.9" fill="#92402D"/>
<circle cx="533.0" cy="977.4" r="5.9" fill="#B2502F"/>
<circle cx="579.7" cy="1001.3" r="5.9" fill="#C05831"/>
<circle cx="626.4" cy="996.5" r="5.9" fill="#BD5730"/>
<circle cx="673.1" cy="1019.6" r="5.9" fill="#C55C31"/>
<circle cx="719.8" cy="1036.5" r="5.9" fill="#CE6631"/>
<circle cx="766.6" cy="1219.6" r="5.9" fill="#EDD377"/>
<circle cx="813.3" cy="963.4" r="5.9" fill="#A94C2E"/>
<circle cx="860.0" cy="1011.2" r="5.9" fill="#C35A31"/>
<circle cx="906.7" cy="1042.6" r="5.9" fill="#D26A32"/>
<circle cx="953.4" cy="1035.7" r="5.9" fill="#CE6531"/>
<circle cx="1000.2" cy="1060.4" r="5.9" fill="#DD7736"/>
<circle cx="1046.9" cy="1033.9" r="5.9" fill="#CC6431"/>
<circle cx="1093.6" cy="1216.0" r="5.9" fill="#EDD076"/>
<circle cx="1140.3" cy="992.3" r="5.9" fill="#BA5530"/>
<circle cx="1187.0" cy="1017.8" r="5.9" fill="#C45B31"/>
<circle cx="1233.8" cy="1032.7" r="5.9" fill="#CC6331"/>
<circle cx="1280.5" cy="1047.8" r="5.9" fill="#D56D33"/>
<circle cx="1327.2" cy="1078.7" r="5.9" fill="#E1803C"/>
<text x="136.8" y="940.2" font-family='"DejaVu Sans", "Liberation Sans", sans-serif' font-size="22.5" fill="#000" text-anchor="start">5,339</text>
<text x="206.9" y="938.3" font-family='"DejaVu Sans", "Liberation Sans", sans-serif' font-size="22.5" fill="#000" text-anchor="start">4,937</text>
<text x="189.1" y="1020.5" font-family='"DejaVu Sans", "Liberation Sans", sans-serif' font-size="22.5" fill="#000" text-anchor="start">4,420</text>
<text x="300.3" y="988.8" font-family='"DejaVu Sans", "Liberation Sans", sans-serif' font-size="22.5" fill="#000" text-anchor="start">4,072</text>
<text x="294.7" y="1222.7" font-family='"DejaVu Sans", "Liberation Sans", sans-serif' font-size="22.5" fill="#000" text-anchor="start">485</text>
<text x="392.8" y="978.5" font-family='"DejaVu Sans", "Liberation Sans", sans-serif' font-size="22.5" fill="#000" text-anchor="start">4,273</text>
<text x="448.6" y="1224.4" font-family='"DejaVu Sans", "Liberation Sans", sans-serif' font-size="22.5" fill="#000" text-anchor="start">460</text>
<text x="414.3" y="937.4" font-family='"DejaVu Sans", "Liberation Sans", sans-serif' font-size="22.5" fill="#000" text-anchor="start">5,426</text>
<text x="461.0" y="986.9" font-family='"DejaVu Sans", "Liberation Sans", sans-serif' font-size="22.5" fill="#000" text-anchor="start">4,570</text>
<text x="514.7" y="1036.7" font-family='"DejaVu Sans", "Liberation Sans", sans-serif' font-size="22.5" fill="#000" text-anchor="start">4,155</text>
<text x="594.6" y="980.6" font-family='"DejaVu Sans", "Liberation Sans", sans-serif' font-size="22.5" fill="#000" text-anchor="start">4,239</text>
<text x="608.5" y="1054.9" font-family='"DejaVu Sans", "Liberation Sans", sans-serif' font-size="22.5" fill="#000" text-anchor="start">3,837</text>
<text x="720.3" y="1020.2" font-family='"DejaVu Sans", "Liberation Sans", sans-serif' font-size="22.5" fill="#000" text-anchor="start">3,544</text>
<text x="774.8" y="1227.7" font-family='"DejaVu Sans", "Liberation Sans", sans-serif' font-size="22.5" fill="#000" text-anchor="start">367</text>
<text x="780.8" y="946.6" font-family='"DejaVu Sans", "Liberation Sans", sans-serif' font-size="22.5" fill="#000" text-anchor="start">4,813</text>
<text x="796.3" y="1046.7" font-family='"DejaVu Sans", "Liberation Sans", sans-serif' font-size="22.5" fill="#000" text-anchor="start">3,983</text>
<text x="874.9" y="1078.7" font-family='"DejaVu Sans", "Liberation Sans", sans-serif' font-size="22.5" fill="#000" text-anchor="start">3,438</text>
<text x="920.5" y="1018.6" font-family='"DejaVu Sans", "Liberation Sans", sans-serif' font-size="22.5" fill="#000" text-anchor="start">3,558</text>
<text x="968.4" y="1096.2" font-family='"DejaVu Sans", "Liberation Sans", sans-serif' font-size="22.5" fill="#000" text-anchor="start">3,130</text>
<text x="1046.7" y="1016.3" font-family='"DejaVu Sans", "Liberation Sans", sans-serif' font-size="22.5" fill="#000" text-anchor="start">3,589</text>
<text x="1102.9" y="1226.0" font-family='"DejaVu Sans", "Liberation Sans", sans-serif' font-size="22.5" fill="#000" text-anchor="start">431</text>
<text x="1076.4" y="976.3" font-family='"DejaVu Sans", "Liberation Sans", sans-serif' font-size="22.5" fill="#000" text-anchor="start">4,312</text>
<text x="1122.7" y="1052.3" font-family='"DejaVu Sans", "Liberation Sans", sans-serif' font-size="22.5" fill="#000" text-anchor="start">3,869</text>
<text x="1235.0" y="1016.3" font-family='"DejaVu Sans", "Liberation Sans", sans-serif' font-size="22.5" fill="#000" text-anchor="start">3,611</text>
<text x="1216.8" y="1082.0" font-family='"DejaVu Sans", "Liberation Sans", sans-serif' font-size="22.5" fill="#000" text-anchor="start">3,348</text>
<text x="1284.6" y="1114.4" font-family='"DejaVu Sans", "Liberation Sans", sans-serif' font-size="22.5" fill="#000" text-anchor="start">2,812</text>
</svg>
<svg class="pies" width="955" height="505" viewBox="1400 800 955 505" style="position:absolute;left:1400px;top:800px;overflow:hidden">
<g transform="translate(0,1)">
<text y="841.6" font-family='"Liberation Sans", Arial, sans-serif' font-size="22" fill="#666"><tspan x="1435.7" textLength="132.2" lengthAdjust="spacingAndGlyphs">Berdasarkan</tspan> <tspan x="1572.7" textLength="53.7" lengthAdjust="spacingAndGlyphs">Jenis</tspan></text>
<text y="875.8" font-family='"Liberation Sans", Arial, sans-serif' font-size="22" fill="#666"><tspan x="1465.4" textLength="130.8" lengthAdjust="spacingAndGlyphs">Pembayaran</tspan></text>
<text y="843.5" font-family='"Liberation Sans", Arial, sans-serif' font-size="22" fill="#666"><tspan x="1729.6" textLength="132.8" lengthAdjust="spacingAndGlyphs">Berdasarkan</tspan> <tspan x="1866.6" textLength="88.8" lengthAdjust="spacingAndGlyphs">Kategori</tspan></text>
<text y="878.0" font-family='"Liberation Sans", Arial, sans-serif' font-size="22" fill="#666"><tspan x="1814.0" textLength="57.8" lengthAdjust="spacingAndGlyphs">Umur</tspan></text>
<text y="838.5" font-family='"Liberation Sans", Arial, sans-serif' font-size="22" fill="#666"><tspan x="2028.4" textLength="131.7" lengthAdjust="spacingAndGlyphs">Berdasarkan</tspan> <tspan x="2165.4" textLength="86.4" lengthAdjust="spacingAndGlyphs">Layanan</tspan></text>
<text y="872.6" font-family='"Liberation Sans", Arial, sans-serif' font-size="22" fill="#666"><tspan x="2120.0" textLength="38.5" lengthAdjust="spacingAndGlyphs">Poli</tspan></text>
</g>
<rect x="1984" y="893.4" width="27.5" height="255.5" rx="2" fill="#f4f4f4"/>
<rect x="1984" y="893.4" width="27.5" height="202.8" rx="2" fill="#e0e0e0"/>
<rect x="1742.7" y="1148.9" width="241.3" height="27.1" rx="2" fill="#f4f4f4"/>
<rect x="1742.7" y="1148.9" width="183.3" height="27.1" rx="2" fill="#e0e0e0"/>
<rect x="1742.7" y="1170" width="27.1" height="32.4" rx="2" fill="#f4f4f4"/>
<rect x="1742.7" y="1150" width="27.1" height="44.3" rx="2" fill="#e0e0e0"/>
<rect x="1742.7" y="892" width="1.4" height="257" fill="#dcdcdc"/>
<rect x="1742.7" y="892" width="27" height="1.4" fill="#dcdcdc"/>
<rect x="2324.6" y="898.7" width="27.1" height="289.5" rx="2" fill="#f4f4f4"/>
<rect x="2324.6" y="898.7" width="27.1" height="261.5" rx="2" fill="#e0e0e0"/>
<path d="M1581.7 1051.4 L1581.70 972.20 A79.2 79.2 0 0 1 1660.89 1052.84 Z" fill="#EDD377" stroke="#EDD377" stroke-width="0.5"/><path d="M1581.7 1051.4 L1660.89 1052.84 A79.2 79.2 0 1 1 1511.82 1014.12 Z" fill="#E6944B" stroke="#E6944B" stroke-width="0.5"/><path d="M1581.7 1051.4 L1511.82 1014.12 A79.2 79.2 0 0 1 1513.13 1011.77 Z" fill="#D9702F" stroke="#D9702F" stroke-width="0.5"/><path d="M1581.7 1051.4 L1513.13 1011.77 A79.2 79.2 0 0 1 1581.70 972.20 Z" fill="#92402D" stroke="#92402D" stroke-width="0.5"/>
<path d="M1902.8 1053.6 L1902.80 974.40 A79.2 79.2 0 0 1 1981.60 1045.65 Z" fill="#EDD377" stroke="#EDD377" stroke-width="0.5"/><path d="M1902.8 1053.6 L1981.60 1045.65 A79.2 79.2 0 0 1 1894.36 1132.35 Z" fill="#EBA55A" stroke="#EBA55A" stroke-width="0.5"/><path d="M1902.8 1053.6 L1894.36 1132.35 A79.2 79.2 0 0 1 1850.57 994.06 Z" fill="#E07838" stroke="#E07838" stroke-width="0.5"/><path d="M1902.8 1053.6 L1850.57 994.06 A79.2 79.2 0 0 1 1902.80 974.40 Z" fill="#92402D" stroke="#92402D" stroke-width="0.5"/>
<path d="M2163.6 1058.8 L2163.60 979.30 A79.5 79.5 0 0 1 2232.26 1018.72 Z" fill="#EDD377" stroke="#EDD377" stroke-width="0.5"/><path d="M2163.6 1058.8 L2232.26 1018.72 A79.5 79.5 0 0 1 2241.82 1044.59 Z" fill="#EDB263" stroke="#EDB263" stroke-width="0.5"/><path d="M2163.6 1058.8 L2241.82 1044.59 A79.5 79.5 0 0 1 2243.04 1062.00 Z" fill="#E07838" stroke="#E07838" stroke-width="0.5"/><path d="M2163.6 1058.8 L2243.04 1062.00 A79.5 79.5 0 0 1 2242.13 1071.19 Z" fill="#D0632F" stroke="#D0632F" stroke-width="0.5"/><path d="M2163.6 1058.8 L2242.13 1071.19 A79.5 79.5 0 0 1 2240.88 1077.46 Z" fill="#BC5230" stroke="#BC5230" stroke-width="0.5"/><path d="M2163.6 1058.8 L2240.88 1077.46 A79.5 79.5 0 1 1 2163.60 979.30 Z" fill="#92402D" stroke="#92402D" stroke-width="0.5"/>
<g transform="translate(0,1)">
<text x="1493.3" y="934.0" font-family='"DejaVu Sans", "Liberation Sans", sans-serif' font-size="22.5" fill="#000" text-anchor="middle" textLength="91.0" lengthAdjust="spacingAndGlyphs">non_pbi</text>
<text x="1493.3" y="969.6" font-family='"DejaVu Sans", "Liberation Sans", sans-serif' font-size="22.5" fill="#000" text-anchor="middle">16.66%</text>
<text x="1684.7" y="948.2" font-family='"DejaVu Sans", "Liberation Sans", sans-serif' font-size="22.5" fill="#000" text-anchor="middle">bayar</text>
<text x="1684.7" y="983.8" font-family='"DejaVu Sans", "Liberation Sans", sans-serif' font-size="22.5" fill="#000" text-anchor="middle">25.29%</text>
<text x="1512.3" y="1159.8" font-family='"DejaVu Sans", "Liberation Sans", sans-serif' font-size="22.5" fill="#000" text-anchor="middle" textLength="96.0" lengthAdjust="spacingAndGlyphs">bpjs_pbi</text>
<text x="1512.3" y="1195.5" font-family='"DejaVu Sans", "Liberation Sans", sans-serif' font-size="22.5" fill="#000" text-anchor="middle">57.51%</text>
<text x="1744.7" y="929.9" font-family='"DejaVu Sans", "Liberation Sans", sans-serif' font-size="22.5" fill="#000" text-anchor="start" textLength="223.5" lengthAdjust="spacingAndGlyphs">Kurang dari 5 Tahun</text>
<text x="1856.2" y="966.4" font-family='"DejaVu Sans", "Liberation Sans", sans-serif' font-size="22.5" fill="#000" text-anchor="middle">11.46%</text>
<text x="1744.7" y="1106.3" font-family='"DejaVu Sans", "Liberation Sans", sans-serif' font-size="22.5" fill="#000" text-anchor="start">40-59 Tahun</text>
<text x="1813.6" y="1142.0" font-family='"DejaVu Sans", "Liberation Sans", sans-serif' font-size="22.5" fill="#000" text-anchor="middle">36.84%</text>
<clipPath id="cp2"><rect x="1742" y="893" width="242" height="256"/></clipPath>
<g clip-path="url(#cp2)"><text x="1920.3" y="1140.8" font-family='"DejaVu Sans", "Liberation Sans", sans-serif' font-size="22.5" fill="#000" text-anchor="start">19-39 Tahun</text></g>
<text x="2248.3" y="943.3" font-family='"DejaVu Sans", "Liberation Sans", sans-serif' font-size="22.5" fill="#000" text-anchor="middle" textLength="64.5" lengthAdjust="spacingAndGlyphs">ANAK</text>
<text x="2248.3" y="978.6" font-family='"DejaVu Sans", "Liberation Sans", sans-serif' font-size="22.5" fill="#000" text-anchor="middle">16.59%</text>
<text x="2151.5" y="1103.0" font-family='"DejaVu Sans", "Liberation Sans", sans-serif' font-size="22.5" fill="#000" text-anchor="start" textLength="169.0" lengthAdjust="spacingAndGlyphs">MTBS (BALITA)</text>
<text x="2236.6" y="1138.7" font-family='"DejaVu Sans", "Liberation Sans", sans-serif' font-size="22.5" fill="#000" text-anchor="middle">1.11%</text>
<text x="2054.3" y="1138.7" font-family='"DejaVu Sans", "Liberation Sans", sans-serif' font-size="22.5" fill="#000" text-anchor="middle" textLength="77.0" lengthAdjust="spacingAndGlyphs">UMUM</text>
<text x="2054.9" y="1174.4" font-family='"DejaVu Sans", "Liberation Sans", sans-serif' font-size="22.5" fill="#000" text-anchor="middle">71.23%</text>
</g>
<text y="1252.1" font-family='"Liberation Sans", Arial, sans-serif' font-size="22" fill="#666"><tspan x="1896.2" textLength="26.3" lengthAdjust="spacingAndGlyphs">By</tspan> <tspan x="1927.2" textLength="5.2" lengthAdjust="spacingAndGlyphs">:</tspan> <tspan x="1939.2" textLength="72.2" lengthAdjust="spacingAndGlyphs">BIdang</tspan> <tspan x="2017.3" textLength="48.7" lengthAdjust="spacingAndGlyphs">Data</tspan> <tspan x="2071.5" textLength="37.8" lengthAdjust="spacingAndGlyphs">dan</tspan> <tspan x="2114.8" textLength="89.1" lengthAdjust="spacingAndGlyphs">Statistik</tspan> <tspan x="2210.1" textLength="87.2" lengthAdjust="spacingAndGlyphs">Sektoral</tspan></text>
<text y="1285.7" font-family='"Liberation Sans", Arial, sans-serif' font-size="22" fill="#666"><tspan x="1896.2" textLength="77.3" lengthAdjust="spacingAndGlyphs">Sumber</tspan> <tspan x="1981.4" textLength="5.2" lengthAdjust="spacingAndGlyphs">:</tspan> <tspan x="1992.6" textLength="48.7" lengthAdjust="spacingAndGlyphs">Data</tspan> <tspan x="2047.2" textLength="115.9" lengthAdjust="spacingAndGlyphs">Warehouse</tspan></text>
</svg>
<svg class="toolbar" width="2355" height="52" viewBox="0 1310 2355 52" style="position:absolute;left:0px;top:1310px;overflow:hidden">
<rect x="0" y="1310.7" width="2355" height="52" fill="#f9f9f9"/>
<rect x="24.11" y="1336.97" width="13.70" height="2.00" fill="#222"/><rect x="29.96" y="1331.12" width="2.00" height="13.70" fill="#222"/>
<rect x="18.02" y="1329.01" width="9.80" height="1.85" fill="#222"/><rect x="22.00" y="1325.03" width="1.85" height="9.80" fill="#222"/>
<rect x="34.10" y="1329.01" width="9.80" height="1.85" fill="#222"/><rect x="38.08" y="1325.03" width="1.85" height="9.80" fill="#222"/>
<rect x="18.02" y="1345.09" width="9.80" height="1.85" fill="#222"/><rect x="22.00" y="1341.11" width="1.85" height="9.80" fill="#222"/>
<rect x="34.10" y="1345.09" width="9.80" height="1.85" fill="#222"/><rect x="38.08" y="1341.11" width="1.85" height="9.80" fill="#222"/>
<rect x="28.01" y="1323.04" width="5.90" height="1.85" fill="#222"/><rect x="30.04" y="1321.01" width="1.85" height="5.90" fill="#222"/>
<rect x="28.01" y="1351.06" width="5.90" height="1.85" fill="#222"/><rect x="30.04" y="1349.03" width="1.85" height="5.90" fill="#222"/>
<rect x="14.00" y="1337.05" width="5.90" height="1.85" fill="#222"/><rect x="16.03" y="1335.02" width="1.85" height="5.90" fill="#222"/>
<rect x="42.02" y="1337.05" width="5.90" height="1.85" fill="#222"/><rect x="44.05" y="1335.02" width="1.85" height="5.90" fill="#222"/>
<text x="58.0" y="1346.0" font-family='"Liberation Sans", Arial, sans-serif' font-size="24.8" fill="#666" text-anchor="start" font-weight="bold" textLength="268.0" lengthAdjust="spacingAndGlyphs">View on Tableau Public</text>
<g fill="none" stroke="#bfbfbf" stroke-width="2" stroke-linejoin="round"><path d="M1605 1328 H1618 A13 13 0 0 1 1618 1354 H1602.3"/><path d="M1706.7 1328 H1693.7 A13 13 0 0 0 1693.7 1354 H1709.8"/><path d="M1769 1328 H1778.5 A13 13 0 0 1 1778.5 1354 H1762.1"/><path d="M1760.8 1323.1 V1332.9"/><path d="M1858.4 1332.1 H1839.3 A6.85 6.85 0 0 0 1839.3 1345.8 H1856.4 A6.85 6.85 0 0 0 1863.3 1338.9 V1337.2"/></g>
<g fill="#bfbfbf"><path d="M1599.8 1328 L1605.7 1323.1 V1332.9 Z"/><path d="M1711.9 1328 L1706 1323.1 V1332.9 Z"/><path d="M1763.8 1328 L1769.8 1323.1 V1332.9 Z"/><path d="M1864 1332.1 L1858.4 1327.3 V1336.9 Z"/><path d="M1893.8 1333.9 H1908.1 L1901 1343.4 Z"/></g>
<rect x="1950.8" y="1325.3" width="1.6" height="27" fill="#bdbdbd"/>
<g fill="none" stroke="#666" stroke-width="2" stroke-linejoin="round"><path d="M2016 1341.9 H2006.2 A1.5 1.5 0 0 1 2004.7 1340.4 V1325.6 A1.5 1.5 0 0 1 2006.2 1324.1 H2031.7 A1.5 1.5 0 0 1 2033.2 1325.6 V1340.4 A1.5 1.5 0 0 1 2031.7 1341.9 H2022"/><path d="M2019 1337.4 V1350.5"/></g>
<path d="M2013.8 1349.8 H2024.3 L2019 1354.9 Z" fill="#666"/>
<path d="M2045.8 1333.9 H2060.1 L2052.9 1343.4 Z" fill="#666"/>
<g fill="none" stroke="#666" stroke-width="2" stroke-linejoin="round"><path d="M2107.6 1334.5 V1325.7 A1 1 0 0 1 2108.6 1324.7 H2117.5 M2126.5 1324.7 H2135.4 A1 1 0 0 1 2136.4 1325.7 V1334.5 M2136.4 1343.5 V1352.2 A1 1 0 0 1 2135.4 1353.2 H2126.5 M2117.5 1353.2 H2108.6 A1 1 0 0 1 2107.6 1352.2 V1343.5"/><rect x="2113.9" y="1330.6" width="16.4" height="16.6" rx="1.5"/></g>
<g fill="none" stroke="#666" stroke-width="2"><circle cx="2206" cy="1328.7" r="4.8"/><circle cx="2187.9" cy="1338.8" r="4.8"/><circle cx="2206" cy="1348.9" r="4.8"/><path d="M2192.1 1336.4 L2201.8 1331 M2192.1 1341.2 L2201.8 1346.6"/></g>
<text x="2224.6" y="1345.7" font-family='"Liberation Sans", Arial, sans-serif' font-size="24.8" fill="#666" text-anchor="start" font-weight="bold" textLength="69.6" lengthAdjust="spacingAndGlyphs">Share</text>
</svg>
<div class="edge-shadow" style="position:absolute;left:2346px;top:0;width:9px;height:1311px;background:linear-gradient(to right,rgba(0,0,0,0),rgba(0,0,0,0.035) 50%,rgba(0,0,0,0.11))"></div>
</body></html>
